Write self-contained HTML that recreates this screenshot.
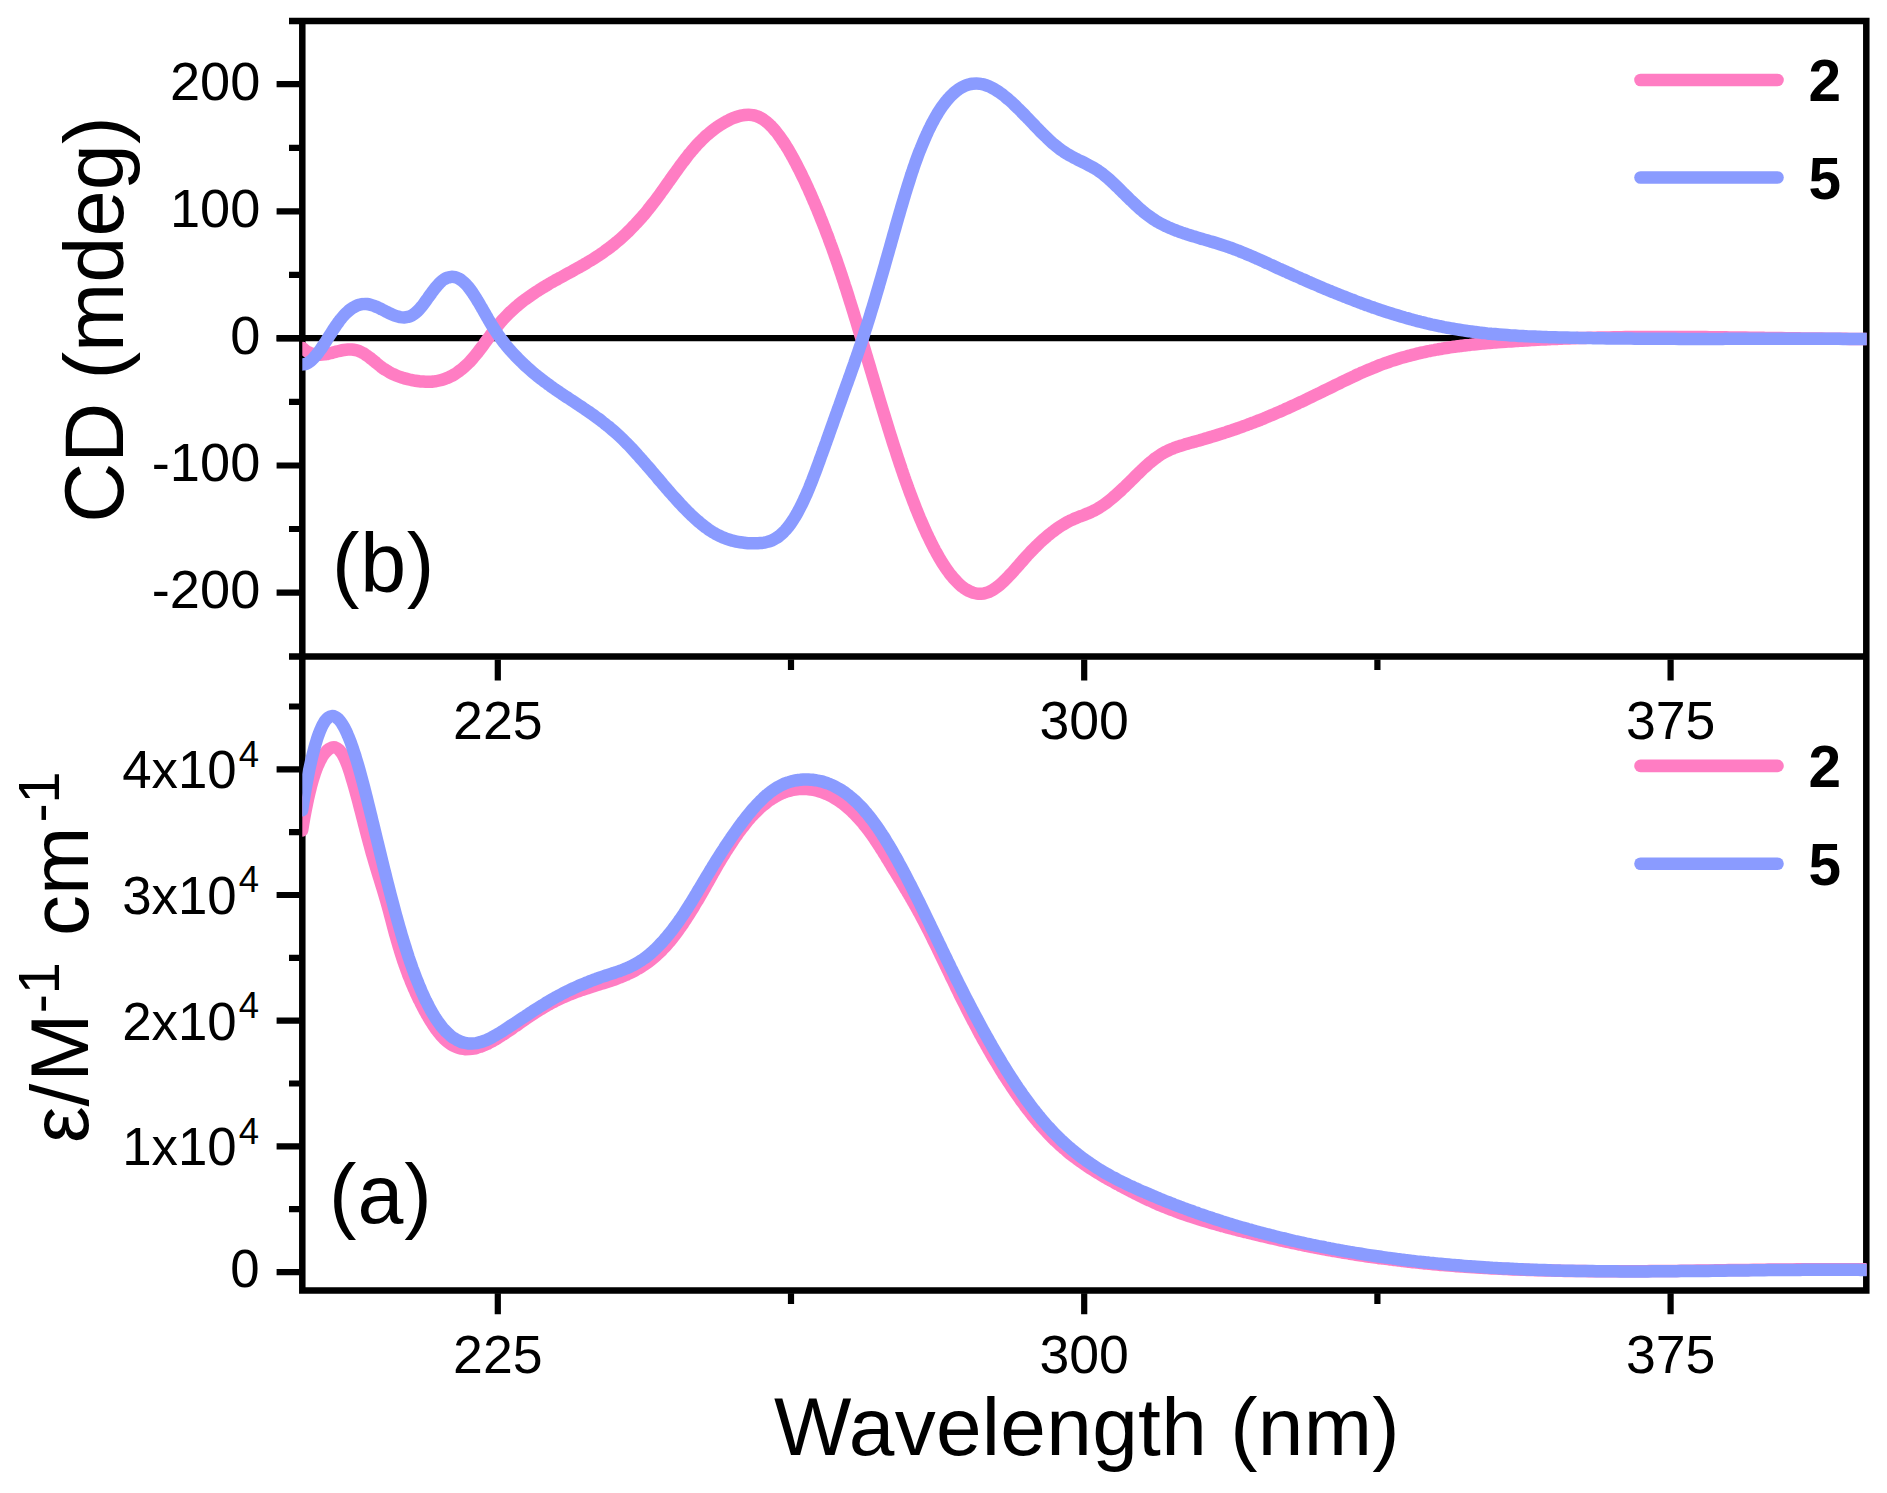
<!DOCTYPE html>
<html lang="en"><head><meta charset="utf-8"><title>CD and UV spectra</title>
<style>html,body{margin:0;padding:0;background:#fff}body{width:1887px;height:1493px;overflow:hidden}svg{display:block}text{font-family:"Liberation Sans", sans-serif;fill:#000}</style>
</head><body>
<svg width="1887" height="1493" viewBox="0 0 1887 1493">
<defs><clipPath id="ct"><rect x="302.3" y="21" width="1564.4" height="635.6"/></clipPath>
<clipPath id="cb"><rect x="302.3" y="656.6" width="1564.4" height="633.8"/></clipPath></defs>
<rect width="1887" height="1493" fill="#fff"/>
<g stroke="#000" fill="none" stroke-linecap="butt">
<path stroke-width="6.5" stroke-linejoin="miter" d="M302.3 21 H1866.3 V1290.4 H302.3 Z M289 21 H302.3 M289 656.6 H1866.3"/>
<path stroke-width="6.2" d="M276.6 338.2 H1866.3"/>
<path stroke-width="6.2" d="M276.6 84.2 H299.6M276.6 211.3 H299.6M276.6 338.4 H299.6M276.6 465.5 H299.6M276.6 592.6 H299.6M289 147.8 H299.6M289 274.9 H299.6M289 401.9 H299.6M289 529 H299.6M276.6 1272.1 H299.6M276.6 1146.4 H299.6M276.6 1020.7 H299.6M276.6 895 H299.6M276.6 769.3 H299.6M289 1209.2 H299.6M289 1083.5 H299.6M289 957.9 H299.6M289 832.1 H299.6M289 706.5 H299.6M497.8 659.4 V680.4M1084.2 659.4 V680.4M1670.6 659.4 V680.4M791 659.4 V670.1M1377.4 659.4 V670.1M497.8 1293.2 V1314.2M1084.2 1293.2 V1314.2M1670.6 1293.2 V1314.2M791 1293.2 V1304M1377.4 1293.2 V1304"/>
</g>
<g fill="none" stroke-width="12.5" stroke-linejoin="round" stroke-linecap="round">
<g clip-path="url(#ct)"><path stroke="#FF7DC3" d="M302.6 348.1C303.1 348.5 304.5 349.8 305.6 350.5C306.6 351.2 307.7 351.8 308.9 352.4C310 352.9 311.2 353.4 312.5 353.8C313.7 354.1 315 354.4 316.3 354.6C317.6 354.7 319 354.8 320.3 354.7C321.6 354.7 323 354.6 324.3 354.4C325.6 354.2 326.9 353.9 328.3 353.7C329.6 353.4 330.9 353.1 332.2 352.8C333.5 352.4 334.8 352.1 336 351.7C337.3 351.4 338.6 351.1 339.9 350.8C341.2 350.5 342.5 350.2 343.8 350C345.1 349.8 346.4 349.6 347.8 349.5C349.1 349.4 350.4 349.4 351.7 349.5C353.1 349.6 354.4 349.8 355.7 350.1C357.1 350.4 358.4 350.8 359.6 351.4C360.9 351.9 362.1 352.6 363.3 353.2C364.5 353.9 365.6 354.7 366.8 355.5C367.9 356.3 369 357.1 370 357.9C371.1 358.7 372.1 359.6 373.2 360.4C374.2 361.3 375.3 362.1 376.3 363C377.3 363.8 378.4 364.7 379.4 365.5C380.4 366.3 381.5 367.1 382.5 367.9C383.6 368.6 384.7 369.4 385.8 370.1C386.9 370.8 388 371.5 389.1 372.1C390.3 372.8 391.4 373.4 392.6 373.9C393.8 374.5 395 375 396.2 375.5C397.4 376 398.7 376.5 399.9 376.9C401.2 377.3 402.4 377.7 403.7 378.1C405 378.4 406.3 378.8 407.6 379.1C408.8 379.4 410.1 379.7 411.4 380C412.7 380.2 414 380.5 415.4 380.7C416.7 380.9 418 381.1 419.3 381.3C420.6 381.4 421.9 381.6 423.3 381.6C424.6 381.7 425.9 381.8 427.3 381.8C428.6 381.8 429.9 381.8 431.3 381.7C432.6 381.6 433.9 381.4 435.3 381.3C436.6 381.1 437.9 380.8 439.2 380.5C440.5 380.2 441.8 379.9 443.1 379.5C444.4 379.1 445.7 378.6 446.9 378.1C448.2 377.6 449.4 377 450.6 376.4C451.9 375.8 453 375.2 454.2 374.5C455.4 373.8 456.5 373 457.6 372.2C458.8 371.5 459.9 370.6 460.9 369.8C462 369 463 368.1 464.1 367.2C465.1 366.3 466.1 365.4 467.1 364.4C468.1 363.5 469 362.5 470 361.5C470.9 360.5 471.8 359.5 472.7 358.5C473.6 357.5 474.5 356.4 475.3 355.4C476.2 354.3 477 353.3 477.9 352.2C478.7 351.1 479.5 350.1 480.3 349C481.2 347.9 482 346.8 482.8 345.8C483.6 344.7 484.3 343.6 485.1 342.5C485.9 341.5 486.7 340.4 487.5 339.3C488.3 338.2 489.1 337.1 489.9 336.1C490.6 335 491.4 333.9 492.2 332.9C493 331.8 493.8 330.8 494.6 329.7C495.4 328.7 496.2 327.6 497 326.6C497.9 325.6 498.7 324.5 499.5 323.5C500.4 322.5 501.2 321.5 502.1 320.5C503 319.6 503.9 318.6 504.8 317.6C505.6 316.7 506.6 315.7 507.5 314.8C508.4 313.9 509.3 312.9 510.3 312C511.2 311.1 512.2 310.2 513.2 309.3C514.2 308.5 515.2 307.6 516.2 306.7C517.2 305.9 518.2 305 519.2 304.2C520.2 303.4 521.3 302.5 522.3 301.7C523.3 300.9 524.4 300.1 525.5 299.3C526.5 298.5 527.6 297.8 528.7 297C529.7 296.2 530.8 295.5 531.9 294.7C533 294 534.1 293.2 535.2 292.5C536.3 291.8 537.4 291 538.6 290.3C539.7 289.6 540.8 288.9 541.9 288.2C543.1 287.5 544.2 286.8 545.3 286.2C546.5 285.5 547.6 284.8 548.8 284.1C549.9 283.5 551.1 282.8 552.2 282.1C553.4 281.5 554.5 280.8 555.7 280.2C556.9 279.5 558 278.9 559.2 278.2C560.4 277.6 561.5 277 562.7 276.3C563.9 275.7 565 275 566.2 274.4C567.4 273.8 568.6 273.1 569.7 272.5C570.9 271.9 572.1 271.2 573.2 270.6C574.4 269.9 575.6 269.3 576.7 268.6C577.9 268 579.1 267.3 580.2 266.7C581.4 266 582.6 265.3 583.7 264.7C584.9 264 586 263.3 587.2 262.6C588.3 262 589.5 261.3 590.6 260.6C591.8 259.9 592.9 259.2 594 258.5C595.2 257.7 596.3 257 597.4 256.3C598.5 255.5 599.6 254.8 600.8 254C601.9 253.3 603 252.5 604.1 251.7C605.2 251 606.2 250.2 607.3 249.4C608.4 248.6 609.5 247.8 610.5 247C611.6 246.1 612.7 245.3 613.7 244.5C614.8 243.6 615.8 242.8 616.8 241.9C617.9 241 618.9 240.2 619.9 239.3C620.9 238.4 621.9 237.5 622.9 236.6C623.9 235.7 624.9 234.8 625.9 233.8C626.8 232.9 627.8 232 628.8 231C629.7 230.1 630.7 229.1 631.6 228.2C632.6 227.2 633.5 226.3 634.4 225.3C635.3 224.3 636.3 223.3 637.2 222.3C638.1 221.3 639 220.3 639.9 219.3C640.8 218.3 641.7 217.3 642.5 216.3C643.4 215.3 644.3 214.3 645.2 213.2C646 212.2 646.9 211.2 647.7 210.1C648.6 209.1 649.4 208 650.2 207C651.1 205.9 651.9 204.9 652.7 203.8C653.6 202.7 654.4 201.7 655.2 200.6C656 199.5 656.8 198.4 657.6 197.4C658.4 196.3 659.2 195.2 660 194.1C660.7 193 661.5 191.9 662.3 190.9C663.1 189.8 663.9 188.7 664.6 187.6C665.4 186.5 666.2 185.4 667 184.3C667.7 183.2 668.5 182.1 669.3 181.1C670 180 670.8 178.9 671.6 177.8C672.3 176.7 673.1 175.6 673.9 174.5C674.7 173.4 675.4 172.4 676.2 171.3C677 170.2 677.7 169.1 678.5 168.1C679.3 167 680.1 165.9 680.9 164.8C681.7 163.8 682.5 162.7 683.3 161.7C684.1 160.6 684.9 159.5 685.7 158.5C686.5 157.5 687.3 156.4 688.1 155.4C688.9 154.3 689.8 153.3 690.6 152.3C691.4 151.3 692.3 150.3 693.2 149.3C694 148.3 694.9 147.3 695.8 146.3C696.6 145.3 697.5 144.4 698.4 143.4C699.3 142.5 700.3 141.5 701.2 140.6C702.1 139.7 703.1 138.7 704 137.8C705 136.9 705.9 136 706.9 135.2C707.9 134.3 708.9 133.4 709.9 132.6C710.9 131.7 711.9 130.9 713 130.1C714 129.3 715 128.5 716.1 127.7C717.2 127 718.3 126.2 719.4 125.5C720.5 124.8 721.6 124.1 722.7 123.4C723.8 122.7 725 122.1 726.1 121.5C727.3 120.8 728.5 120.3 729.7 119.7C730.9 119.1 732.1 118.6 733.3 118.1C734.5 117.6 735.8 117.2 737 116.8C738.3 116.4 739.5 116 740.8 115.7C742.1 115.4 743.4 115.2 744.7 115C746 114.8 747.3 114.8 748.7 114.8C750 114.8 751.3 114.9 752.7 115.1C754 115.4 755.3 115.7 756.6 116.1C757.9 116.6 759.2 117.1 760.4 117.8C761.6 118.4 762.8 119.2 763.9 119.9C765.1 120.7 766.2 121.6 767.2 122.5C768.3 123.4 769.3 124.3 770.3 125.3C771.2 126.3 772.2 127.3 773.1 128.3C774 129.3 774.9 130.4 775.8 131.4C776.7 132.5 777.5 133.5 778.3 134.6C779.1 135.7 779.9 136.8 780.7 137.9C781.5 139.1 782.3 140.2 783 141.3C783.8 142.4 784.5 143.6 785.3 144.7C786 145.9 786.7 147 787.4 148.2C788.1 149.3 788.8 150.5 789.5 151.7C790.1 152.8 790.8 154 791.5 155.2C792.1 156.4 792.8 157.5 793.4 158.7C794.1 159.9 794.7 161.1 795.4 162.3C796 163.5 796.6 164.7 797.2 165.9C797.8 167.1 798.5 168.3 799.1 169.5C799.7 170.7 800.3 171.9 800.9 173.1C801.5 174.3 802 175.5 802.6 176.7C803.2 177.9 803.8 179.1 804.4 180.3C804.9 181.6 805.5 182.8 806.1 184C806.6 185.2 807.2 186.4 807.8 187.7C808.3 188.9 808.9 190.1 809.4 191.3C810 192.6 810.5 193.8 811.1 195C811.6 196.2 812.1 197.5 812.7 198.7C813.2 199.9 813.7 201.2 814.3 202.4C814.8 203.6 815.3 204.9 815.8 206.1C816.4 207.3 816.9 208.6 817.4 209.8C817.9 211.1 818.4 212.3 818.9 213.5C819.4 214.8 819.9 216 820.4 217.3C820.9 218.5 821.4 219.8 821.9 221C822.4 222.3 822.9 223.5 823.4 224.8C823.9 226 824.4 227.2 824.9 228.5C825.3 229.8 825.8 231 826.3 232.3C826.8 233.5 827.3 234.8 827.7 236C828.2 237.3 828.7 238.5 829.1 239.8C829.6 241 830.1 242.3 830.5 243.6C831 244.8 831.4 246.1 831.9 247.3C832.4 248.6 832.8 249.9 833.3 251.1C833.7 252.4 834.2 253.6 834.6 254.9C835.1 256.2 835.5 257.4 836 258.7C836.4 260 836.8 261.2 837.3 262.5C837.7 263.8 838.1 265 838.6 266.3C839 267.6 839.4 268.8 839.9 270.1C840.3 271.4 840.7 272.6 841.2 273.9C841.6 275.2 842 276.5 842.4 277.7C842.8 279 843.3 280.3 843.7 281.5C844.1 282.8 844.5 284.1 844.9 285.4C845.3 286.6 845.8 287.9 846.2 289.2C846.6 290.5 847 291.7 847.4 293C847.8 294.3 848.2 295.6 848.6 296.8C849 298.1 849.4 299.4 849.8 300.7C850.2 301.9 850.6 303.2 851 304.5C851.4 305.8 851.8 307 852.2 308.3C852.6 309.6 853 310.9 853.4 312.2C853.8 313.5 854.2 314.8 854.6 316.1C855 317.4 855.4 318.7 855.8 320C856.2 321.3 856.6 322.6 857 323.9C857.4 325.2 857.8 326.6 858.2 327.9C858.6 329.2 859 330.5 859.4 331.8C859.8 333.2 860.2 334.5 860.6 335.8C861 337.1 861.4 338.5 861.8 339.8C862.2 341.1 862.6 342.5 863 343.8C863.4 345.1 863.8 346.5 864.2 347.8C864.6 349.1 865 350.5 865.4 351.8C865.8 353.2 866.2 354.5 866.6 355.8C867 357.2 867.4 358.5 867.8 359.9C868.2 361.2 868.6 362.6 869 363.9C869.4 365.2 869.8 366.6 870.2 367.9C870.6 369.3 871 370.6 871.4 372C871.8 373.3 872.2 374.6 872.6 376C873 377.3 873.4 378.7 873.8 380C874.2 381.4 874.6 382.7 875 384C875.4 385.4 875.8 386.7 876.2 388.1C876.6 389.4 877 390.7 877.4 392.1C877.8 393.4 878.2 394.7 878.6 396.1C879 397.4 879.4 398.7 879.8 400.1C880.2 401.4 880.6 402.7 881 404.1C881.4 405.4 881.8 406.7 882.2 408C882.6 409.3 883 410.7 883.4 412C883.8 413.3 884.2 414.6 884.6 415.9C885 417.2 885.4 418.5 885.8 419.8C886.2 421.1 886.6 422.4 887 423.7C887.4 425 887.8 426.3 888.2 427.6C888.6 428.9 889 430.2 889.4 431.5C889.8 432.8 890.2 434 890.6 435.3C891 436.6 891.4 437.8 891.8 439.1C892.2 440.4 892.6 441.7 893 442.9C893.4 444.2 893.8 445.4 894.2 446.7C894.6 448 895.1 449.2 895.5 450.5C895.9 451.8 896.3 453 896.7 454.3C897.1 455.6 897.5 456.8 897.9 458.1C898.4 459.3 898.8 460.6 899.2 461.9C899.6 463.1 900 464.4 900.4 465.6C900.9 466.9 901.3 468.2 901.7 469.4C902.2 470.7 902.6 471.9 903 473.2C903.4 474.4 903.9 475.7 904.3 476.9C904.8 478.2 905.2 479.4 905.6 480.7C906.1 481.9 906.5 483.2 907 484.4C907.4 485.7 907.9 486.9 908.3 488.2C908.8 489.4 909.2 490.7 909.7 491.9C910.1 493.1 910.6 494.4 911.1 495.6C911.5 496.9 912 498.1 912.5 499.3C912.9 500.6 913.4 501.8 913.9 503C914.4 504.3 914.9 505.5 915.3 506.7C915.8 508 916.3 509.2 916.8 510.4C917.3 511.6 917.8 512.9 918.3 514.1C918.8 515.3 919.3 516.5 919.8 517.8C920.3 519 920.9 520.2 921.4 521.4C921.9 522.6 922.4 523.8 922.9 525C923.5 526.3 924 527.5 924.6 528.7C925.1 529.9 925.6 531.1 926.2 532.3C926.7 533.5 927.3 534.7 927.9 535.9C928.4 537.1 929 538.2 929.6 539.4C930.1 540.6 930.7 541.8 931.3 543C931.9 544.1 932.5 545.3 933.1 546.5C933.7 547.7 934.3 548.8 934.9 550C935.6 551.1 936.2 552.3 936.8 553.4C937.5 554.6 938.1 555.7 938.8 556.9C939.4 558 940.1 559.1 940.8 560.3C941.5 561.4 942.1 562.5 942.8 563.6C943.5 564.7 944.3 565.8 945 566.9C945.7 568 946.5 569.1 947.2 570.1C948 571.2 948.7 572.2 949.5 573.3C950.3 574.3 951.1 575.3 952 576.3C952.8 577.3 953.6 578.3 954.5 579.3C955.4 580.3 956.3 581.2 957.2 582.1C958.1 583 959 583.9 960 584.8C961 585.7 961.9 586.5 963 587.3C964 588 965.1 588.8 966.2 589.5C967.3 590.1 968.4 590.8 969.6 591.3C970.7 591.9 971.9 592.4 973.2 592.8C974.4 593.1 975.7 593.4 977 593.6C978.3 593.8 979.6 593.9 980.9 593.8C982.3 593.7 983.6 593.6 984.9 593.2C986.3 592.9 987.6 592.5 988.8 592C990.1 591.4 991.3 590.8 992.5 590.1C993.7 589.4 994.9 588.6 996 587.8C997.1 587 998.2 586.2 999.2 585.3C1000.3 584.4 1001.3 583.5 1002.3 582.6C1003.3 581.7 1004.3 580.8 1005.2 579.8C1006.2 578.9 1007.1 577.9 1008.1 576.9C1009 575.9 1009.9 574.9 1010.8 574C1011.8 573 1012.7 572 1013.6 571C1014.4 570 1015.3 569 1016.2 568C1017.1 567 1018 566 1018.9 565C1019.7 564 1020.6 562.9 1021.5 562C1022.4 561 1023.3 560 1024.1 559C1025 558 1025.9 557 1026.8 556C1027.7 555 1028.6 554.1 1029.5 553.1C1030.4 552.1 1031.3 551.2 1032.2 550.2C1033.2 549.3 1034.1 548.3 1035 547.4C1036 546.5 1036.9 545.5 1037.9 544.6C1038.8 543.7 1039.8 542.8 1040.7 541.9C1041.7 541 1042.7 540.1 1043.7 539.2C1044.7 538.4 1045.6 537.5 1046.7 536.6C1047.7 535.8 1048.7 534.9 1049.7 534.1C1050.7 533.3 1051.8 532.5 1052.8 531.7C1053.9 530.9 1054.9 530.1 1056 529.3C1057.1 528.5 1058.1 527.8 1059.2 527C1060.3 526.3 1061.4 525.6 1062.6 524.9C1063.7 524.2 1064.8 523.5 1066 522.9C1067.1 522.3 1068.3 521.6 1069.5 521C1070.6 520.5 1071.8 519.9 1073 519.4C1074.2 518.8 1075.5 518.3 1076.7 517.8C1077.9 517.3 1079.2 516.8 1080.4 516.3C1081.6 515.9 1082.9 515.4 1084.1 514.9C1085.4 514.4 1086.6 513.9 1087.9 513.4C1089.1 512.9 1090.3 512.4 1091.5 511.8C1092.8 511.2 1094 510.7 1095.2 510C1096.4 509.4 1097.6 508.7 1098.7 508C1099.9 507.3 1101 506.6 1102.1 505.8C1103.3 505.1 1104.4 504.3 1105.5 503.5C1106.5 502.7 1107.6 501.9 1108.7 501C1109.7 500.2 1110.8 499.3 1111.8 498.5C1112.9 497.6 1113.9 496.7 1114.9 495.9C1115.9 495 1116.9 494.1 1117.9 493.2C1118.9 492.3 1119.9 491.4 1120.9 490.5C1121.9 489.5 1122.8 488.6 1123.8 487.7C1124.8 486.8 1125.7 485.8 1126.7 484.9C1127.6 484 1128.6 483 1129.6 482.1C1130.5 481.2 1131.5 480.2 1132.4 479.3C1133.4 478.3 1134.3 477.4 1135.2 476.5C1136.2 475.5 1137.1 474.6 1138.1 473.7C1139 472.7 1140 471.8 1141 470.9C1141.9 470 1142.9 469.1 1143.8 468.2C1144.8 467.3 1145.8 466.4 1146.8 465.5C1147.8 464.6 1148.7 463.7 1149.7 462.9C1150.7 462 1151.8 461.2 1152.8 460.3C1153.8 459.5 1154.8 458.7 1155.9 457.9C1157 457.2 1158 456.4 1159.1 455.7C1160.2 454.9 1161.3 454.2 1162.4 453.6C1163.6 452.9 1164.7 452.3 1165.9 451.7C1167.1 451.1 1168.2 450.5 1169.4 450C1170.6 449.4 1171.9 448.9 1173.1 448.4C1174.3 447.9 1175.6 447.5 1176.8 447C1178.1 446.6 1179.3 446.2 1180.6 445.8C1181.8 445.4 1183.1 445 1184.4 444.6C1185.7 444.2 1186.9 443.9 1188.2 443.5C1189.5 443.2 1190.8 442.8 1192.1 442.4C1193.4 442.1 1194.7 441.7 1195.9 441.4C1197.2 441 1198.5 440.6 1199.8 440.3C1201.1 439.9 1202.3 439.5 1203.6 439.1C1204.9 438.8 1206.2 438.4 1207.5 438C1208.7 437.6 1210 437.2 1211.3 436.9C1212.6 436.5 1213.8 436.1 1215.1 435.7C1216.4 435.3 1217.7 434.9 1218.9 434.5C1220.2 434.1 1221.5 433.7 1222.8 433.3C1224 432.9 1225.3 432.5 1226.6 432C1227.8 431.6 1229.1 431.2 1230.4 430.8C1231.6 430.4 1232.9 429.9 1234.2 429.5C1235.4 429.1 1236.7 428.6 1237.9 428.2C1239.2 427.8 1240.5 427.3 1241.7 426.9C1243 426.4 1244.2 426 1245.5 425.5C1246.7 425 1248 424.6 1249.2 424.1C1250.5 423.6 1251.7 423.2 1253 422.7C1254.2 422.2 1255.5 421.7 1256.7 421.2C1258 420.8 1259.2 420.3 1260.5 419.8C1261.7 419.3 1262.9 418.8 1264.2 418.3C1265.4 417.8 1266.6 417.3 1267.9 416.7C1269.1 416.2 1270.3 415.7 1271.6 415.2C1272.8 414.7 1274 414.2 1275.3 413.6C1276.5 413.1 1277.7 412.6 1278.9 412C1280.1 411.5 1281.4 411 1282.6 410.4C1283.8 409.9 1285 409.3 1286.2 408.8C1287.5 408.2 1288.7 407.7 1289.9 407.1C1291.1 406.6 1292.3 406 1293.5 405.5C1294.7 404.9 1296 404.3 1297.2 403.8C1298.4 403.2 1299.6 402.6 1300.8 402.1C1302 401.5 1303.2 400.9 1304.4 400.4C1305.6 399.8 1306.8 399.2 1308 398.6C1309.2 398.1 1310.4 397.5 1311.6 396.9C1312.8 396.3 1314 395.7 1315.2 395.1C1316.4 394.6 1317.6 394 1318.8 393.4C1320 392.8 1321.2 392.2 1322.4 391.6C1323.6 391 1324.8 390.4 1326 389.8C1327.2 389.3 1328.4 388.7 1329.6 388.1C1330.8 387.5 1332 386.9 1333.2 386.3C1334.4 385.7 1335.6 385.1 1336.8 384.5C1338 384 1339.2 383.4 1340.4 382.8C1341.5 382.2 1342.7 381.6 1343.9 381C1345.1 380.5 1346.3 379.9 1347.5 379.3C1348.7 378.7 1349.9 378.2 1351.2 377.6C1352.4 377 1353.6 376.4 1354.8 375.9C1356 375.3 1357.2 374.8 1358.4 374.2C1359.6 373.7 1360.8 373.1 1362 372.6C1363.3 372 1364.5 371.5 1365.7 371C1366.9 370.4 1368.1 369.9 1369.4 369.4C1370.6 368.9 1371.8 368.4 1373 367.9C1374.3 367.4 1375.5 366.9 1376.7 366.4C1378 365.9 1379.2 365.4 1380.5 364.9C1381.7 364.5 1383 364 1384.2 363.5C1385.5 363.1 1386.7 362.6 1388 362.2C1389.2 361.8 1390.5 361.3 1391.7 360.9C1393 360.5 1394.3 360.1 1395.5 359.7C1396.8 359.3 1398.1 358.9 1399.3 358.5C1400.6 358.1 1401.9 357.7 1403.2 357.4C1404.5 357 1405.7 356.6 1407 356.3C1408.3 355.9 1409.6 355.6 1410.9 355.3C1412.2 354.9 1413.5 354.6 1414.8 354.3C1416 354 1417.3 353.7 1418.6 353.3C1419.9 353 1421.2 352.7 1422.5 352.5C1423.8 352.2 1425.1 351.9 1426.4 351.6C1427.7 351.3 1429 351.1 1430.3 350.8C1431.7 350.6 1433 350.3 1434.3 350.1C1435.6 349.8 1436.9 349.6 1438.2 349.3C1439.5 349.1 1440.8 348.9 1442.1 348.7C1443.5 348.4 1444.8 348.2 1446.1 348C1447.4 347.8 1448.7 347.6 1450 347.4C1451.4 347.2 1452.7 347 1454 346.8C1455.3 346.6 1456.6 346.5 1458 346.3C1459.3 346.1 1460.6 346 1461.9 345.8C1463.2 345.6 1464.6 345.5 1465.9 345.3C1467.2 345.2 1468.5 345 1469.9 344.9C1471.2 344.7 1472.5 344.6 1473.8 344.4C1475.2 344.3 1476.5 344.2 1477.8 344C1479.1 343.9 1480.5 343.8 1481.8 343.6C1483.1 343.5 1484.5 343.4 1485.8 343.3C1487.1 343.2 1488.4 343.1 1489.8 342.9C1491.1 342.8 1492.4 342.7 1493.8 342.6C1495.1 342.5 1496.4 342.4 1497.7 342.3C1499.1 342.2 1500.4 342.1 1501.7 342C1503.1 341.9 1504.4 341.8 1505.7 341.7C1507 341.6 1508.4 341.5 1509.7 341.4C1511 341.4 1512.4 341.3 1513.7 341.2C1515 341.1 1516.4 341 1517.7 340.9C1519 340.8 1520.3 340.8 1521.7 340.7C1523 340.6 1524.3 340.5 1525.7 340.4C1527 340.4 1528.3 340.3 1529.7 340.2C1531 340.1 1532.3 340.1 1533.7 340C1535 339.9 1536.3 339.8 1537.7 339.8C1539 339.7 1540.3 339.6 1541.6 339.6C1543 339.5 1544.3 339.4 1545.6 339.4C1547 339.3 1548.3 339.3 1549.6 339.2C1551 339.1 1552.3 339.1 1553.6 339C1555 339 1556.3 338.9 1557.6 338.9C1559 338.8 1560.3 338.7 1561.6 338.7C1563 338.6 1564.3 338.6 1565.6 338.5C1567 338.5 1568.3 338.4 1569.6 338.4C1571 338.4 1572.3 338.3 1573.6 338.3C1575 338.2 1576.3 338.2 1577.6 338.1C1578.9 338.1 1580.3 338.1 1581.6 338C1582.9 338 1584.3 337.9 1585.6 337.9C1586.9 337.9 1588.3 337.8 1589.6 337.8C1590.9 337.8 1592.3 337.7 1593.6 337.7C1594.9 337.7 1596.3 337.6 1597.6 337.6C1598.9 337.6 1600.3 337.5 1601.6 337.5C1602.9 337.5 1604.3 337.5 1605.6 337.4C1606.9 337.4 1608.3 337.4 1609.6 337.4C1610.9 337.3 1612.3 337.3 1613.6 337.3C1614.9 337.3 1616.3 337.3 1617.6 337.2C1618.9 337.2 1620.3 337.2 1621.6 337.2C1622.9 337.2 1624.3 337.2 1625.6 337.1C1626.9 337.1 1628.3 337.1 1629.6 337.1C1630.9 337.1 1632.3 337.1 1633.6 337.1C1634.9 337 1636.3 337 1637.6 337C1638.9 337 1640.3 337 1641.6 337C1642.9 337 1644.3 337 1645.6 337C1646.9 337 1648.3 337 1649.6 337C1650.9 337 1652.3 337 1653.6 336.9C1654.9 336.9 1656.3 336.9 1657.6 336.9C1658.9 336.9 1660.3 336.9 1661.6 336.9C1662.9 336.9 1664.3 336.9 1665.6 336.9C1666.9 336.9 1668.3 336.9 1669.6 336.9C1670.9 336.9 1672.3 336.9 1673.6 336.9C1674.9 337 1676.3 337 1677.6 337C1678.9 337 1680.3 337 1681.6 337C1682.9 337 1684.3 337 1685.6 337C1686.9 337 1688.3 337 1689.6 337C1690.9 337 1692.3 337 1693.6 337C1694.9 337.1 1696.3 337.1 1697.6 337.1C1698.9 337.1 1700.3 337.1 1701.6 337.1C1702.9 337.1 1704.3 337.1 1705.6 337.1C1706.9 337.2 1708.3 337.2 1709.6 337.2C1710.9 337.2 1712.3 337.2 1713.6 337.2C1714.9 337.2 1716.3 337.2 1717.6 337.3C1718.9 337.3 1720.3 337.3 1721.6 337.3C1722.9 337.3 1724.3 337.3 1725.6 337.3C1726.9 337.4 1728.3 337.4 1729.6 337.4C1730.9 337.4 1732.3 337.4 1733.6 337.4C1734.9 337.5 1736.3 337.5 1737.6 337.5C1738.9 337.5 1740.3 337.5 1741.6 337.5C1742.9 337.6 1744.3 337.6 1745.6 337.6C1746.9 337.6 1748.3 337.6 1749.6 337.7C1750.9 337.7 1752.3 337.7 1753.6 337.7C1754.9 337.7 1756.3 337.7 1757.6 337.8C1758.9 337.8 1760.3 337.8 1761.6 337.8C1762.9 337.8 1764.3 337.9 1765.6 337.9C1766.9 337.9 1768.3 337.9 1769.6 337.9C1770.9 338 1772.3 338 1773.6 338C1774.9 338 1776.3 338 1777.6 338C1778.9 338.1 1780.3 338.1 1781.6 338.1C1782.9 338.1 1784.3 338.1 1785.6 338.2C1786.9 338.2 1788.3 338.2 1789.6 338.2C1790.9 338.2 1792.3 338.3 1793.6 338.3C1794.9 338.3 1796.3 338.3 1797.6 338.3C1798.9 338.3 1800.3 338.4 1801.6 338.4C1802.9 338.4 1804.3 338.4 1805.6 338.4C1806.9 338.4 1808.3 338.5 1809.6 338.5C1810.9 338.5 1812.3 338.5 1813.6 338.5C1814.9 338.5 1816.3 338.6 1817.6 338.6C1818.9 338.6 1820.3 338.6 1821.6 338.6C1822.9 338.6 1824.3 338.6 1825.6 338.7C1826.9 338.7 1828.3 338.7 1829.6 338.7C1830.9 338.7 1832.3 338.7 1833.6 338.7C1834.9 338.8 1836.3 338.8 1837.6 338.8C1838.9 338.8 1840.3 338.8 1841.6 338.8C1842.9 338.8 1844.3 338.8 1845.6 338.8C1846.9 338.9 1848.3 338.9 1849.6 338.9C1850.9 338.9 1852.3 338.9 1853.6 338.9C1854.9 338.9 1856.3 338.9 1857.6 338.9C1858.9 338.9 1860.3 338.9 1861.6 338.9C1862.9 338.9 1864.8 339 1865.6 339C1866.4 339 1864.9 339 1866.6 339C1868.3 339 1874.4 339 1876 339"/><path stroke="#8A9BFF" d="M302.6 364.4C303.3 364.3 305.3 364.1 306.6 363.6C307.9 363.1 309.1 362.2 310.3 361.3C311.4 360.5 312.4 359.5 313.4 358.4C314.4 357.4 315.3 356.4 316.2 355.3C317.1 354.2 317.9 353.1 318.7 352C319.6 350.9 320.3 349.8 321.1 348.7C321.9 347.6 322.6 346.4 323.4 345.3C324.1 344.2 324.8 343 325.6 341.9C326.3 340.8 327 339.6 327.7 338.5C328.4 337.4 329.1 336.3 329.8 335.1C330.6 334 331.3 332.9 332 331.8C332.7 330.6 333.4 329.5 334.1 328.4C334.9 327.3 335.6 326.2 336.3 325.2C337.1 324.1 337.8 323 338.6 322C339.4 320.9 340.1 319.9 341 318.9C341.8 317.9 342.6 316.9 343.5 315.9C344.3 315 345.2 314 346.1 313.1C347.1 312.2 348 311.4 349 310.5C350 309.7 351 308.9 352.1 308.2C353.1 307.5 354.3 306.9 355.4 306.3C356.6 305.7 357.8 305.2 359 304.9C360.2 304.5 361.5 304.2 362.8 304.1C364.1 303.9 365.5 303.9 366.8 304C368.1 304.2 369.5 304.5 370.8 304.8C372.1 305.1 373.4 305.6 374.6 306.1C375.9 306.6 377.1 307.1 378.4 307.7C379.6 308.2 380.8 308.9 382 309.5C383.2 310.1 384.4 310.7 385.5 311.3C386.7 311.9 387.9 312.5 389.1 313.1C390.3 313.7 391.5 314.2 392.7 314.7C393.9 315.2 395.1 315.7 396.4 316.1C397.6 316.5 398.9 316.8 400.2 317.1C401.5 317.3 402.8 317.4 404.1 317.4C405.5 317.3 406.8 317.2 408.1 316.8C409.4 316.5 410.8 315.9 412 315.3C413.2 314.6 414.4 313.8 415.5 312.9C416.6 312 417.7 311 418.6 310C419.6 309 420.5 307.9 421.4 306.8C422.3 305.8 423.1 304.7 423.9 303.6C424.7 302.5 425.5 301.4 426.3 300.3C427.1 299.2 427.9 298.1 428.6 297C429.4 296 430.2 294.9 431 293.8C431.7 292.7 432.5 291.7 433.3 290.6C434.1 289.6 434.9 288.5 435.7 287.5C436.5 286.5 437.3 285.5 438.2 284.6C439.1 283.6 439.9 282.7 440.9 281.8C441.8 281 442.8 280.2 443.8 279.5C444.9 278.8 446 278.2 447.2 277.8C448.4 277.3 449.6 277 450.9 276.9C452.2 276.8 453.6 276.9 454.9 277.2C456.2 277.5 457.6 278 458.8 278.7C460 279.3 461.2 280.1 462.3 281C463.4 281.9 464.5 282.8 465.5 283.8C466.4 284.8 467.4 285.9 468.3 287C469.1 288.1 470 289.2 470.8 290.3C471.6 291.4 472.4 292.5 473.1 293.7C473.9 294.8 474.6 296 475.4 297.1C476.1 298.2 476.8 299.4 477.5 300.6C478.2 301.7 478.9 302.9 479.6 304C480.2 305.2 480.9 306.4 481.6 307.5C482.3 308.7 482.9 309.8 483.6 311C484.2 312.2 484.9 313.3 485.6 314.5C486.2 315.6 486.9 316.8 487.5 317.9C488.2 319.1 488.9 320.2 489.6 321.4C490.2 322.5 490.9 323.6 491.6 324.8C492.3 325.9 493 327 493.7 328.1C494.4 329.2 495.1 330.3 495.8 331.4C496.6 332.5 497.3 333.6 498 334.7C498.8 335.7 499.6 336.8 500.3 337.9C501.1 338.9 501.9 340 502.7 341C503.5 342.1 504.3 343.1 505.1 344.1C505.9 345.2 506.8 346.2 507.6 347.2C508.5 348.2 509.3 349.2 510.2 350.2C511 351.2 511.9 352.2 512.8 353.1C513.7 354.1 514.6 355.1 515.5 356C516.4 357 517.3 357.9 518.3 358.9C519.2 359.8 520.1 360.7 521.1 361.7C522 362.6 523 363.5 523.9 364.4C524.9 365.3 525.9 366.2 526.9 367.1C527.8 368 528.8 368.9 529.8 369.7C530.8 370.6 531.8 371.5 532.8 372.3C533.8 373.2 534.8 374 535.9 374.9C536.9 375.7 537.9 376.5 539 377.4C540 378.2 541 379 542.1 379.8C543.2 380.6 544.2 381.4 545.3 382.2C546.3 383 547.4 383.8 548.5 384.6C549.6 385.3 550.6 386.1 551.7 386.9C552.8 387.7 553.9 388.4 555 389.2C556.1 389.9 557.2 390.7 558.3 391.4C559.4 392.2 560.5 392.9 561.6 393.7C562.7 394.4 563.8 395.2 564.9 395.9C566 396.6 567.1 397.4 568.2 398.1C569.3 398.8 570.4 399.6 571.6 400.3C572.7 401 573.8 401.8 574.9 402.5C576 403.2 577.1 404 578.2 404.7C579.3 405.5 580.5 406.2 581.6 406.9C582.7 407.7 583.8 408.4 584.9 409.2C586 409.9 587.1 410.7 588.2 411.4C589.3 412.2 590.4 413 591.5 413.7C592.6 414.5 593.7 415.3 594.8 416.1C595.8 416.9 596.9 417.6 598 418.4C599.1 419.2 600.2 420 601.2 420.9C602.3 421.7 603.3 422.5 604.4 423.3C605.4 424.2 606.5 425 607.5 425.8C608.6 426.7 609.6 427.5 610.6 428.4C611.7 429.3 612.7 430.1 613.7 431C614.7 431.9 615.7 432.8 616.7 433.7C617.7 434.6 618.7 435.5 619.7 436.4C620.7 437.4 621.6 438.3 622.6 439.2C623.6 440.2 624.5 441.1 625.5 442.1C626.4 443 627.4 444 628.3 444.9C629.2 445.9 630.2 446.9 631.1 447.8C632 448.8 632.9 449.8 633.8 450.8C634.7 451.8 635.6 452.8 636.5 453.8C637.4 454.8 638.3 455.7 639.2 456.7C640.1 457.7 641 458.7 641.9 459.8C642.8 460.8 643.6 461.8 644.5 462.8C645.4 463.8 646.3 464.8 647.1 465.8C648 466.8 648.9 467.8 649.8 468.8C650.6 469.9 651.5 470.9 652.4 471.9C653.2 472.9 654.1 473.9 655 474.9C655.8 475.9 656.7 477 657.6 478C658.4 479 659.3 480 660.2 481C661 482 661.9 483 662.7 484.1C663.6 485.1 664.5 486.1 665.4 487.1C666.2 488.1 667.1 489.1 668 490.1C668.8 491.1 669.7 492.1 670.6 493.1C671.5 494.1 672.4 495.1 673.2 496.1C674.1 497.1 675 498.1 675.9 499C676.8 500 677.7 501 678.6 502C679.5 503 680.4 503.9 681.3 504.9C682.2 505.9 683.1 506.8 684 507.8C684.9 508.7 685.9 509.7 686.8 510.6C687.7 511.6 688.7 512.5 689.6 513.4C690.6 514.3 691.5 515.3 692.5 516.2C693.4 517.1 694.4 518 695.4 518.9C696.4 519.7 697.4 520.6 698.4 521.5C699.4 522.3 700.4 523.2 701.4 524C702.4 524.8 703.4 525.7 704.5 526.5C705.5 527.3 706.6 528 707.7 528.8C708.7 529.6 709.8 530.3 710.9 531C712 531.7 713.2 532.4 714.3 533.1C715.4 533.7 716.6 534.4 717.8 535C718.9 535.6 720.1 536.1 721.3 536.7C722.5 537.2 723.7 537.7 725 538.2C726.2 538.7 727.4 539.1 728.7 539.5C729.9 539.9 731.2 540.3 732.5 540.7C733.8 541 735.1 541.3 736.4 541.6C737.7 541.9 739 542.1 740.3 542.3C741.6 542.5 742.9 542.7 744.2 542.8C745.5 543 746.9 543.1 748.2 543.2C749.5 543.2 750.9 543.3 752.2 543.3C753.5 543.3 754.9 543.3 756.2 543.3C757.5 543.3 758.9 543.2 760.2 543.1C761.5 543 762.9 542.8 764.2 542.6C765.5 542.3 766.8 542 768.1 541.6C769.4 541.3 770.7 540.8 772 540.3C773.2 539.7 774.4 539.1 775.6 538.4C776.8 537.7 778 536.9 779.1 536.1C780.2 535.2 781.2 534.3 782.3 533.4C783.3 532.4 784.2 531.4 785.2 530.4C786.1 529.4 787 528.3 787.9 527.3C788.7 526.2 789.6 525.1 790.4 524C791.2 522.8 791.9 521.7 792.7 520.5C793.5 519.4 794.2 518.2 794.9 517.1C795.6 515.9 796.3 514.7 797 513.5C797.6 512.3 798.3 511.1 798.9 509.9C799.6 508.7 800.2 507.5 800.8 506.3C801.4 505.1 802 503.9 802.6 502.6C803.2 501.4 803.8 500.2 804.3 498.9C804.9 497.7 805.5 496.5 806 495.2C806.6 494 807.1 492.7 807.6 491.5C808.1 490.3 808.7 489 809.2 487.8C809.7 486.5 810.2 485.3 810.7 484C811.2 482.8 811.7 481.5 812.2 480.3C812.7 479 813.2 477.7 813.6 476.5C814.1 475.2 814.6 474 815.1 472.7C815.6 471.5 816 470.2 816.5 469C817 467.7 817.4 466.4 817.9 465.2C818.3 463.9 818.8 462.7 819.3 461.4C819.7 460.2 820.2 458.9 820.6 457.6C821.1 456.4 821.5 455.1 822 453.9C822.5 452.6 822.9 451.4 823.4 450.1C823.8 448.8 824.3 447.6 824.7 446.3C825.2 445.1 825.6 443.8 826.1 442.6C826.5 441.3 827 440 827.4 438.8C827.9 437.5 828.3 436.3 828.8 435C829.2 433.8 829.6 432.5 830.1 431.2C830.5 430 831 428.7 831.4 427.5C831.9 426.2 832.3 425 832.8 423.7C833.2 422.5 833.7 421.2 834.1 419.9C834.6 418.7 835 417.4 835.4 416.2C835.9 414.9 836.3 413.7 836.8 412.4C837.2 411.1 837.7 409.9 838.1 408.6C838.6 407.4 839 406.1 839.5 404.9C839.9 403.6 840.4 402.4 840.8 401.1C841.3 399.9 841.7 398.6 842.2 397.3C842.6 396.1 843.1 394.8 843.5 393.6C844 392.3 844.4 391.1 844.9 389.8C845.3 388.6 845.8 387.3 846.2 386.1C846.7 384.8 847.1 383.5 847.6 382.3C848 381 848.5 379.8 848.9 378.5C849.4 377.3 849.8 376 850.3 374.7C850.7 373.5 851.2 372.2 851.6 371C852 369.7 852.5 368.4 852.9 367.2C853.4 365.9 853.8 364.7 854.3 363.4C854.7 362.1 855.1 360.9 855.6 359.6C856 358.3 856.5 357.1 856.9 355.8C857.3 354.5 857.8 353.3 858.2 352C858.6 350.7 859.1 349.5 859.5 348.2C859.9 346.9 860.3 345.7 860.8 344.4C861.2 343.1 861.6 341.9 862 340.6C862.5 339.3 862.9 338 863.3 336.8C863.7 335.5 864.1 334.2 864.5 332.9C864.9 331.7 865.3 330.4 865.7 329.1C866.2 327.8 866.6 326.5 867 325.3C867.4 324 867.8 322.7 868.2 321.4C868.6 320.2 869 318.9 869.4 317.6C869.8 316.3 870.2 315 870.6 313.7C871 312.3 871.4 311 871.8 309.7C872.2 308.4 872.6 307.1 873 305.7C873.4 304.4 873.8 303.1 874.2 301.7C874.6 300.4 875 299 875.4 297.7C875.8 296.3 876.2 295 876.6 293.6C877 292.3 877.4 290.9 877.8 289.5C878.2 288.2 878.6 286.8 879 285.4C879.4 284.1 879.8 282.7 880.2 281.3C880.6 279.9 881 278.5 881.4 277.1C881.8 275.7 882.2 274.4 882.6 273C883 271.6 883.4 270.2 883.8 268.8C884.2 267.4 884.6 266 885 264.6C885.4 263.1 885.8 261.7 886.2 260.3C886.6 258.9 887 257.5 887.4 256.1C887.8 254.7 888.2 253.3 888.6 251.8C889 250.4 889.4 249 889.8 247.6C890.2 246.2 890.6 244.8 891 243.3C891.4 241.9 891.8 240.5 892.2 239.1C892.6 237.7 893 236.2 893.4 234.8C893.8 233.4 894.2 232 894.6 230.6C895 229.2 895.4 227.7 895.8 226.3C896.2 224.9 896.6 223.5 897 222.1C897.4 220.7 897.8 219.3 898.2 217.9C898.6 216.5 899 215.1 899.4 213.8C899.8 212.4 900.2 211 900.6 209.6C901 208.2 901.4 206.9 901.8 205.5C902.2 204.1 902.6 202.8 903 201.4C903.4 200.1 903.8 198.8 904.2 197.4C904.6 196.1 905 194.8 905.4 193.4C905.8 192.1 906.2 190.8 906.6 189.5C907 188.2 907.4 186.9 907.8 185.6C908.2 184.4 908.6 183.1 909 181.8C909.4 180.6 909.8 179.3 910.2 178.1C910.6 176.8 911 175.5 911.4 174.3C911.8 173 912.2 171.8 912.7 170.5C913.1 169.3 913.5 168 913.9 166.8C914.4 165.5 914.8 164.3 915.2 163.1C915.7 161.8 916.1 160.6 916.6 159.3C917 158.1 917.5 156.9 917.9 155.6C918.4 154.4 918.9 153.2 919.3 151.9C919.8 150.7 920.3 149.5 920.8 148.3C921.3 147 921.8 145.8 922.3 144.6C922.8 143.4 923.3 142.2 923.8 141C924.3 139.8 924.8 138.6 925.4 137.4C925.9 136.2 926.4 135 927 133.8C927.5 132.6 928.1 131.4 928.6 130.2C929.2 129 929.8 127.8 930.4 126.7C930.9 125.5 931.5 124.3 932.1 123.2C932.8 122 933.4 120.9 934 119.7C934.6 118.6 935.3 117.4 935.9 116.3C936.6 115.2 937.3 114.1 937.9 112.9C938.6 111.8 939.3 110.7 940 109.6C940.8 108.6 941.5 107.5 942.2 106.4C943 105.4 943.8 104.3 944.5 103.3C945.3 102.2 946.1 101.2 947 100.2C947.8 99.2 948.7 98.3 949.5 97.3C950.4 96.4 951.3 95.4 952.3 94.6C953.2 93.7 954.2 92.8 955.1 92C956.1 91.1 957.2 90.4 958.2 89.6C959.3 88.9 960.4 88.2 961.5 87.5C962.6 86.9 963.8 86.3 965 85.8C966.2 85.3 967.4 84.9 968.7 84.5C969.9 84.2 971.2 83.9 972.5 83.7C973.8 83.6 975.2 83.5 976.5 83.5C977.8 83.5 979.2 83.6 980.5 83.9C981.8 84.1 983.1 84.4 984.4 84.7C985.7 85.1 987 85.6 988.3 86.1C989.5 86.6 990.8 87.2 992 87.8C993.2 88.4 994.4 89.1 995.5 89.8C996.7 90.5 997.8 91.2 999 92C1000.1 92.8 1001.2 93.6 1002.3 94.4C1003.3 95.2 1004.4 96 1005.4 96.9C1006.5 97.8 1007.5 98.6 1008.5 99.5C1009.6 100.4 1010.6 101.3 1011.6 102.2C1012.6 103.1 1013.5 104 1014.5 105C1015.5 105.9 1016.4 106.8 1017.4 107.8C1018.4 108.7 1019.3 109.7 1020.3 110.6C1021.2 111.6 1022.1 112.5 1023.1 113.5C1024 114.4 1024.9 115.4 1025.9 116.4C1026.8 117.3 1027.7 118.3 1028.6 119.2C1029.6 120.2 1030.5 121.2 1031.4 122.1C1032.3 123.1 1033.3 124.1 1034.2 125C1035.1 126 1036 126.9 1036.9 127.9C1037.9 128.9 1038.8 129.8 1039.7 130.8C1040.7 131.7 1041.6 132.6 1042.5 133.6C1043.5 134.5 1044.4 135.4 1045.4 136.4C1046.3 137.3 1047.3 138.2 1048.2 139.1C1049.2 140 1050.2 140.9 1051.1 141.8C1052.1 142.7 1053.1 143.6 1054.1 144.4C1055.1 145.3 1056.1 146.1 1057.2 146.9C1058.2 147.8 1059.2 148.6 1060.3 149.4C1061.3 150.1 1062.4 150.9 1063.5 151.6C1064.6 152.4 1065.7 153.1 1066.8 153.8C1067.9 154.4 1069.1 155.1 1070.2 155.7C1071.4 156.4 1072.5 157 1073.7 157.6C1074.9 158.2 1076.1 158.8 1077.3 159.4C1078.4 160 1079.6 160.6 1080.8 161.2C1082 161.8 1083.2 162.3 1084.4 162.9C1085.6 163.5 1086.8 164.1 1088 164.8C1089.2 165.4 1090.4 166 1091.6 166.7C1092.7 167.3 1093.9 168 1095.1 168.7C1096.2 169.4 1097.4 170.1 1098.5 170.9C1099.6 171.6 1100.7 172.4 1101.8 173.2C1102.9 174.1 1103.9 174.9 1105 175.8C1106 176.6 1107.1 177.5 1108.1 178.4C1109.1 179.3 1110.1 180.2 1111.1 181.1C1112.1 182 1113.1 182.9 1114 183.9C1115 184.8 1116 185.7 1116.9 186.7C1117.9 187.6 1118.8 188.5 1119.8 189.5C1120.7 190.4 1121.7 191.4 1122.6 192.3C1123.6 193.2 1124.5 194.2 1125.5 195.1C1126.4 196 1127.4 197 1128.3 197.9C1129.3 198.8 1130.2 199.8 1131.2 200.7C1132.1 201.6 1133.1 202.5 1134 203.4C1135 204.3 1136 205.2 1137 206.1C1137.9 207 1138.9 207.9 1139.9 208.8C1140.9 209.6 1141.9 210.5 1142.9 211.3C1143.9 212.2 1145 213 1146 213.8C1147 214.7 1148.1 215.5 1149.1 216.2C1150.2 217 1151.3 217.8 1152.4 218.5C1153.4 219.3 1154.5 220 1155.7 220.7C1156.8 221.4 1157.9 222 1159.1 222.7C1160.2 223.3 1161.4 223.9 1162.6 224.5C1163.7 225.1 1164.9 225.7 1166.1 226.3C1167.3 226.8 1168.5 227.4 1169.7 227.9C1171 228.4 1172.2 228.9 1173.4 229.4C1174.6 229.9 1175.9 230.4 1177.1 230.9C1178.4 231.3 1179.6 231.8 1180.9 232.2C1182.1 232.7 1183.4 233.1 1184.6 233.5C1185.9 233.9 1187.2 234.4 1188.4 234.8C1189.7 235.2 1191 235.6 1192.2 236C1193.5 236.4 1194.8 236.7 1196.1 237.1C1197.3 237.5 1198.6 237.9 1199.9 238.3C1201.2 238.6 1202.5 239 1203.7 239.4C1205 239.8 1206.3 240.1 1207.6 240.5C1208.9 240.9 1210.1 241.3 1211.4 241.7C1212.7 242 1214 242.4 1215.2 242.8C1216.5 243.2 1217.8 243.6 1219.1 244C1220.3 244.4 1221.6 244.8 1222.9 245.2C1224.2 245.6 1225.4 246 1226.7 246.5C1228 246.9 1229.2 247.3 1230.5 247.8C1231.7 248.2 1233 248.7 1234.2 249.2C1235.5 249.6 1236.7 250.1 1238 250.6C1239.2 251.1 1240.5 251.6 1241.7 252.1C1243 252.6 1244.2 253.1 1245.4 253.6C1246.7 254.1 1247.9 254.6 1249.1 255.2C1250.4 255.7 1251.6 256.2 1252.8 256.7C1254 257.3 1255.3 257.8 1256.5 258.3C1257.7 258.9 1258.9 259.4 1260.1 260C1261.3 260.5 1262.6 261.1 1263.8 261.6C1265 262.2 1266.2 262.7 1267.4 263.3C1268.6 263.8 1269.9 264.4 1271.1 264.9C1272.3 265.5 1273.5 266 1274.7 266.6C1275.9 267.2 1277.1 267.7 1278.3 268.3C1279.6 268.8 1280.8 269.4 1282 269.9C1283.2 270.5 1284.4 271 1285.6 271.6C1286.8 272.1 1288 272.7 1289.3 273.2C1290.5 273.8 1291.7 274.3 1292.9 274.9C1294.1 275.4 1295.3 276 1296.6 276.5C1297.8 277.1 1299 277.6 1300.2 278.1C1301.4 278.7 1302.6 279.2 1303.9 279.7C1305.1 280.3 1306.3 280.8 1307.5 281.4C1308.7 281.9 1310 282.4 1311.2 282.9C1312.4 283.5 1313.6 284 1314.9 284.5C1316.1 285.1 1317.3 285.6 1318.5 286.1C1319.8 286.6 1321 287.1 1322.2 287.7C1323.4 288.2 1324.7 288.7 1325.9 289.2C1327.1 289.7 1328.4 290.2 1329.6 290.7C1330.8 291.3 1332.1 291.8 1333.3 292.3C1334.5 292.8 1335.8 293.3 1337 293.8C1338.2 294.3 1339.5 294.8 1340.7 295.3C1341.9 295.8 1343.2 296.3 1344.4 296.7C1345.7 297.2 1346.9 297.7 1348.1 298.2C1349.4 298.7 1350.6 299.2 1351.9 299.6C1353.1 300.1 1354.3 300.6 1355.6 301.1C1356.8 301.5 1358.1 302 1359.3 302.5C1360.6 302.9 1361.8 303.4 1363.1 303.9C1364.3 304.3 1365.6 304.8 1366.8 305.2C1368.1 305.7 1369.3 306.1 1370.6 306.6C1371.9 307 1373.1 307.5 1374.4 307.9C1375.6 308.3 1376.9 308.8 1378.2 309.2C1379.4 309.6 1380.7 310 1381.9 310.5C1383.2 310.9 1384.5 311.3 1385.7 311.7C1387 312.1 1388.3 312.5 1389.5 312.9C1390.8 313.4 1392.1 313.8 1393.3 314.1C1394.6 314.5 1395.9 314.9 1397.2 315.3C1398.4 315.7 1399.7 316.1 1401 316.5C1402.3 316.9 1403.5 317.2 1404.8 317.6C1406.1 318 1407.4 318.3 1408.7 318.7C1410 319 1411.2 319.4 1412.5 319.7C1413.8 320.1 1415.1 320.4 1416.4 320.8C1417.7 321.1 1419 321.4 1420.3 321.8C1421.5 322.1 1422.8 322.4 1424.1 322.7C1425.4 323 1426.7 323.4 1428 323.7C1429.3 324 1430.6 324.3 1431.9 324.6C1433.2 324.8 1434.5 325.1 1435.8 325.4C1437.1 325.7 1438.4 326 1439.7 326.2C1441 326.5 1442.3 326.8 1443.6 327C1445 327.3 1446.3 327.5 1447.6 327.8C1448.9 328 1450.2 328.2 1451.5 328.5C1452.8 328.7 1454.1 328.9 1455.4 329.1C1456.8 329.4 1458.1 329.6 1459.4 329.8C1460.7 330 1462 330.2 1463.3 330.4C1464.7 330.6 1466 330.8 1467.3 331C1468.6 331.1 1469.9 331.3 1471.3 331.5C1472.6 331.7 1473.9 331.8 1475.2 332C1476.5 332.2 1477.9 332.3 1479.2 332.5C1480.5 332.6 1481.8 332.8 1483.2 332.9C1484.5 333.1 1485.8 333.2 1487.1 333.4C1488.5 333.5 1489.8 333.6 1491.1 333.8C1492.4 333.9 1493.8 334 1495.1 334.1C1496.4 334.2 1497.8 334.4 1499.1 334.5C1500.4 334.6 1501.7 334.7 1503.1 334.8C1504.4 334.9 1505.7 335 1507.1 335.1C1508.4 335.2 1509.7 335.3 1511 335.4C1512.4 335.5 1513.7 335.5 1515 335.6C1516.4 335.7 1517.7 335.8 1519 335.9C1520.4 335.9 1521.7 336 1523 336.1C1524.4 336.2 1525.7 336.2 1527 336.3C1528.4 336.3 1529.7 336.4 1531 336.5C1532.3 336.5 1533.7 336.6 1535 336.6C1536.3 336.7 1537.7 336.8 1539 336.8C1540.3 336.9 1541.7 336.9 1543 336.9C1544.3 337 1545.7 337 1547 337.1C1548.3 337.1 1549.7 337.2 1551 337.2C1552.3 337.2 1553.7 337.3 1555 337.3C1556.3 337.4 1557.7 337.4 1559 337.4C1560.3 337.5 1561.7 337.5 1563 337.5C1564.3 337.6 1565.7 337.6 1567 337.6C1568.3 337.7 1569.7 337.7 1571 337.7C1572.3 337.7 1573.7 337.8 1575 337.8C1576.3 337.8 1577.7 337.9 1579 337.9C1580.3 337.9 1581.7 337.9 1583 338C1584.3 338 1585.7 338 1587 338C1588.3 338.1 1589.7 338.1 1591 338.1C1592.3 338.1 1593.7 338.2 1595 338.2C1596.3 338.2 1597.7 338.2 1599 338.2C1600.3 338.3 1601.7 338.3 1603 338.3C1604.3 338.3 1605.7 338.3 1607 338.4C1608.3 338.4 1609.7 338.4 1611 338.4C1612.3 338.4 1613.7 338.4 1615 338.5C1616.3 338.5 1617.7 338.5 1619 338.5C1620.3 338.5 1621.7 338.5 1623 338.5C1624.3 338.6 1625.7 338.6 1627 338.6C1628.3 338.6 1629.7 338.6 1631 338.6C1632.3 338.6 1633.7 338.6 1635 338.7C1636.3 338.7 1637.7 338.7 1639 338.7C1640.3 338.7 1641.7 338.7 1643 338.7C1644.3 338.7 1645.7 338.7 1647 338.7C1648.3 338.7 1649.7 338.8 1651 338.8C1652.3 338.8 1653.7 338.8 1655 338.8C1656.3 338.8 1657.7 338.8 1659 338.8C1660.3 338.8 1661.7 338.8 1663 338.8C1664.3 338.8 1665.7 338.8 1667 338.8C1668.3 338.8 1669.7 338.8 1671 338.8C1672.3 338.8 1673.7 338.8 1675 338.8C1676.3 338.9 1677.7 338.9 1679 338.9C1680.3 338.9 1681.7 338.9 1683 338.9C1684.3 338.9 1685.7 338.9 1687 338.9C1688.3 338.9 1689.7 338.9 1691 338.9C1692.3 338.9 1693.7 338.9 1695 338.9C1696.3 338.9 1697.7 338.9 1699 338.9C1700.3 338.9 1701.7 338.9 1703 338.9C1704.3 338.9 1705.7 338.9 1707 338.9C1708.3 338.9 1709.7 338.9 1711 338.9C1712.3 338.9 1713.7 338.9 1715 338.9C1716.3 338.9 1717.7 338.9 1719 338.9C1720.3 338.9 1721.7 338.9 1723 338.9C1724.3 338.9 1725.7 338.8 1727 338.8C1728.3 338.8 1729.7 338.8 1731 338.8C1732.3 338.8 1733.7 338.8 1735 338.8C1736.3 338.8 1737.7 338.8 1739 338.8C1740.3 338.8 1741.7 338.8 1743 338.8C1744.3 338.8 1745.7 338.8 1747 338.8C1748.3 338.8 1749.7 338.8 1751 338.8C1752.3 338.8 1753.7 338.8 1755 338.8C1756.3 338.8 1757.7 338.8 1759 338.8C1760.3 338.8 1761.7 338.8 1763 338.8C1764.3 338.8 1765.7 338.8 1767 338.8C1768.3 338.8 1769.7 338.8 1771 338.8C1772.3 338.8 1773.7 338.8 1775 338.8C1776.3 338.8 1777.7 338.8 1779 338.8C1780.3 338.8 1781.7 338.8 1783 338.8C1784.3 338.8 1785.7 338.8 1787 338.8C1788.3 338.8 1789.7 338.8 1791 338.8C1792.3 338.8 1793.7 338.8 1795 338.8C1796.3 338.8 1797.7 338.8 1799 338.8C1800.3 338.8 1801.7 338.8 1803 338.8C1804.3 338.8 1805.7 338.8 1807 338.8C1808.3 338.8 1809.7 338.8 1811 338.8C1812.3 338.8 1813.7 338.8 1815 338.8C1816.3 338.8 1817.7 338.8 1819 338.8C1820.3 338.8 1821.7 338.8 1823 338.8C1824.3 338.8 1825.7 338.8 1827 338.8C1828.3 338.8 1829.7 338.8 1831 338.8C1832.3 338.8 1833.7 338.8 1835 338.8C1836.3 338.8 1837.7 338.8 1839 338.8C1840.3 338.9 1841.7 338.9 1843 338.9C1844.3 338.9 1845.7 338.9 1847 338.9C1848.3 338.9 1849.7 338.9 1851 338.9C1852.3 338.9 1853.7 338.9 1855 338.9C1856.3 338.9 1857.7 339 1859 339C1860.3 339 1861.7 339 1863 339C1864.3 339 1864.4 339 1866.6 339C1868.8 339 1874.4 339 1876 339"/></g>
<g clip-path="url(#cb)"><path stroke="#FF7DC3" d="M302.1 830.5C302.3 829.3 302.9 825.7 303.3 823.3C303.7 821 304.1 818.7 304.5 816.5C304.9 814.3 305.3 812.2 305.7 810.1C306.1 808.1 306.5 806.1 306.9 804.2C307.3 802.2 307.7 800.4 308.1 798.5C308.5 796.7 308.9 795 309.3 793.3C309.7 791.6 310.1 790 310.5 788.4C310.9 786.8 311.3 785.3 311.7 783.9C312.1 782.4 312.5 781 312.9 779.6C313.3 778.3 313.7 777 314.1 775.8C314.5 774.5 314.9 773.3 315.3 772.1C315.7 770.9 316.2 769.7 316.6 768.5C317.1 767.3 317.6 766.1 318.1 765C318.6 763.8 319.1 762.6 319.7 761.5C320.2 760.4 320.8 759.3 321.4 758.2C322 757.1 322.7 756 323.4 755C324.1 754 324.8 753 325.7 752.1C326.5 751.2 327.4 750.3 328.3 749.5C329.3 748.8 330.3 748 331.4 747.7C332.6 747.3 333.9 747.1 335.2 747.4C336.5 747.8 338 748.8 339.1 749.8C340.2 750.8 341.1 752.1 342 753.4C342.8 754.6 343.5 756 344.1 757.3C344.8 758.6 345.3 759.9 345.9 761.2C346.4 762.5 346.9 763.8 347.4 765.1C347.9 766.4 348.3 767.7 348.8 769C349.2 770.3 349.7 771.6 350.1 772.9C350.5 774.2 350.9 775.5 351.3 776.8C351.7 778.2 352.1 779.5 352.5 780.8C352.9 782.2 353.3 783.6 353.7 785C354.1 786.4 354.5 787.8 354.9 789.2C355.3 790.7 355.7 792.1 356.1 793.6C356.5 795 356.9 796.5 357.3 798C357.7 799.5 358.1 801 358.5 802.5C358.9 804.1 359.3 805.6 359.7 807.1C360.1 808.6 360.5 810.2 360.9 811.7C361.3 813.3 361.7 814.8 362.1 816.4C362.5 817.9 362.9 819.5 363.3 821C363.7 822.6 364.1 824.1 364.5 825.7C364.9 827.2 365.3 828.8 365.7 830.3C366.1 831.8 366.5 833.4 366.9 834.9C367.3 836.4 367.7 838 368.1 839.5C368.5 841 368.9 842.5 369.3 844C369.7 845.4 370.1 846.9 370.5 848.4C370.9 849.8 371.3 851.3 371.7 852.7C372.1 854.1 372.5 855.5 372.9 856.9C373.3 858.3 373.7 859.7 374.1 861C374.5 862.4 374.9 863.7 375.3 865C375.7 866.4 376.1 867.7 376.5 869C376.9 870.3 377.3 871.6 377.7 872.9C378.1 874.2 378.5 875.5 378.9 876.8C379.3 878.1 379.7 879.4 380.1 880.7C380.5 882 380.9 883.3 381.3 884.6C381.7 885.9 382.1 887.2 382.5 888.5C382.9 889.8 383.3 891.1 383.7 892.4C384.1 893.8 384.5 895.1 384.9 896.5C385.3 897.8 385.7 899.2 386.1 900.6C386.5 902 386.9 903.4 387.3 904.8C387.7 906.2 388.1 907.7 388.5 909.2C388.9 910.6 389.3 912.1 389.7 913.6C390.1 915.1 390.5 916.7 390.9 918.2C391.3 919.7 391.7 921.2 392.1 922.8C392.5 924.3 392.9 925.8 393.3 927.3C393.7 928.8 394.1 930.3 394.5 931.8C394.9 933.3 395.3 934.7 395.7 936.2C396.1 937.6 396.5 939 396.9 940.4C397.3 941.8 397.7 943.2 398.1 944.5C398.5 945.9 398.9 947.2 399.3 948.5C399.7 949.8 400.1 951.1 400.5 952.4C400.9 953.7 401.3 954.9 401.7 956.2C402.1 957.4 402.5 958.7 402.9 959.9C403.4 961.2 403.8 962.4 404.2 963.6C404.6 964.9 405.1 966.1 405.5 967.4C406 968.6 406.4 969.8 406.9 971.1C407.3 972.3 407.8 973.5 408.2 974.8C408.7 976 409.2 977.2 409.7 978.4C410.2 979.6 410.6 980.9 411.1 982.1C411.6 983.3 412.2 984.5 412.7 985.7C413.2 986.9 413.7 988.1 414.2 989.3C414.8 990.5 415.3 991.7 415.8 992.9C416.4 994.1 416.9 995.3 417.5 996.5C418.1 997.7 418.6 998.9 419.2 1000.1C419.8 1001.2 420.4 1002.4 421 1003.6C421.6 1004.8 422.2 1005.9 422.8 1007.1C423.4 1008.3 424 1009.4 424.6 1010.6C425.2 1011.8 425.9 1012.9 426.5 1014C427.2 1015.2 427.8 1016.3 428.5 1017.5C429.1 1018.6 429.8 1019.7 430.5 1020.8C431.2 1021.9 431.9 1023 432.6 1024.1C433.3 1025.2 434 1026.3 434.8 1027.4C435.5 1028.5 436.3 1029.5 437.1 1030.6C437.8 1031.6 438.6 1032.6 439.5 1033.6C440.3 1034.6 441.1 1035.6 442 1036.6C442.9 1037.5 443.8 1038.5 444.7 1039.4C445.6 1040.2 446.6 1041.1 447.6 1041.9C448.6 1042.7 449.6 1043.5 450.7 1044.2C451.7 1044.9 452.8 1045.6 454 1046.1C455.1 1046.7 456.3 1047.2 457.6 1047.6C458.8 1048.1 460.1 1048.4 461.4 1048.7C462.6 1048.9 464 1049.1 465.3 1049.2C466.6 1049.2 467.9 1049.2 469.3 1049.1C470.6 1049 471.9 1048.9 473.3 1048.6C474.6 1048.4 475.9 1048.1 477.2 1047.7C478.5 1047.4 479.8 1046.9 481.1 1046.5C482.3 1046 483.6 1045.5 484.8 1045C486 1044.4 487.3 1043.9 488.5 1043.3C489.7 1042.7 490.9 1042 492.1 1041.4C493.2 1040.7 494.4 1040 495.6 1039.4C496.7 1038.7 497.9 1038 499 1037.3C500.1 1036.5 501.3 1035.8 502.4 1035.1C503.5 1034.4 504.6 1033.6 505.7 1032.9C506.8 1032.1 508 1031.4 509.1 1030.6C510.2 1029.9 511.3 1029.1 512.4 1028.4C513.5 1027.6 514.6 1026.8 515.7 1026.1C516.8 1025.3 517.9 1024.6 518.9 1023.8C520 1023.1 521.1 1022.3 522.2 1021.5C523.3 1020.8 524.4 1020 525.5 1019.3C526.6 1018.5 527.7 1017.8 528.8 1017C529.9 1016.3 531 1015.5 532.1 1014.8C533.2 1014.1 534.4 1013.3 535.5 1012.6C536.6 1011.9 537.7 1011.2 538.8 1010.5C539.9 1009.8 541.1 1009.1 542.2 1008.4C543.3 1007.7 544.5 1007 545.6 1006.3C546.8 1005.7 547.9 1005 549.1 1004.4C550.2 1003.7 551.4 1003.1 552.6 1002.5C553.8 1001.9 554.9 1001.3 556.1 1000.7C557.3 1000.1 558.5 999.5 559.7 998.9C560.9 998.4 562.1 997.8 563.3 997.3C564.5 996.8 565.8 996.2 567 995.7C568.2 995.2 569.4 994.7 570.7 994.2C571.9 993.7 573.1 993.2 574.4 992.8C575.6 992.3 576.9 991.8 578.1 991.4C579.4 990.9 580.6 990.5 581.9 990C583.1 989.6 584.4 989.2 585.7 988.8C586.9 988.3 588.2 987.9 589.5 987.5C590.7 987.1 592 986.7 593.3 986.3C594.5 985.9 595.8 985.5 597.1 985.1C598.4 984.7 599.6 984.3 600.9 983.9C602.2 983.5 603.5 983.1 604.7 982.7C606 982.3 607.3 981.9 608.5 981.5C609.8 981.1 611.1 980.7 612.3 980.2C613.6 979.8 614.9 979.4 616.1 978.9C617.4 978.4 618.6 978 619.9 977.5C621.1 977 622.4 976.5 623.6 976C624.8 975.4 626.1 974.9 627.3 974.3C628.5 973.8 629.7 973.2 630.9 972.6C632.1 972 633.3 971.4 634.5 970.8C635.7 970.1 636.9 969.5 638 968.8C639.2 968.1 640.4 967.4 641.5 966.7C642.6 966 643.8 965.2 644.9 964.5C646 963.7 647.1 962.9 648.2 962.1C649.3 961.3 650.3 960.5 651.4 959.6C652.4 958.8 653.5 957.9 654.5 957C655.5 956.2 656.6 955.3 657.5 954.4C658.5 953.4 659.5 952.5 660.5 951.6C661.5 950.6 662.4 949.6 663.3 948.7C664.3 947.7 665.2 946.7 666.1 945.7C667 944.7 667.9 943.7 668.8 942.6C669.7 941.6 670.5 940.6 671.4 939.5C672.3 938.5 673.1 937.4 673.9 936.3C674.7 935.3 675.6 934.2 676.4 933.1C677.2 932 678 930.9 678.7 929.8C679.5 928.7 680.3 927.6 681.1 926.5C681.8 925.4 682.6 924.3 683.4 923.2C684.1 922.1 684.8 920.9 685.6 919.8C686.3 918.7 687.1 917.6 687.8 916.4C688.5 915.3 689.2 914.2 689.9 913C690.6 911.9 691.4 910.8 692.1 909.6C692.8 908.5 693.5 907.3 694.2 906.2C694.8 905 695.5 903.9 696.2 902.7C696.9 901.6 697.6 900.4 698.3 899.3C699 898.1 699.6 897 700.3 895.8C701 894.6 701.6 893.5 702.3 892.3C703 891.2 703.6 890 704.3 888.8C705 887.7 705.6 886.5 706.3 885.3C706.9 884.2 707.6 883 708.3 881.9C708.9 880.7 709.6 879.5 710.2 878.4C710.9 877.2 711.5 876.1 712.2 874.9C712.8 873.7 713.5 872.6 714.2 871.4C714.8 870.3 715.5 869.1 716.1 868C716.8 866.8 717.5 865.7 718.1 864.5C718.8 863.4 719.5 862.3 720.2 861.1C720.8 860 721.5 858.8 722.2 857.7C722.9 856.6 723.6 855.4 724.3 854.3C725 853.2 725.7 852.1 726.4 850.9C727.1 849.8 727.8 848.7 728.5 847.6C729.2 846.5 730 845.4 730.7 844.3C731.4 843.2 732.1 842.1 732.9 841C733.6 839.9 734.4 838.8 735.1 837.7C735.9 836.6 736.6 835.5 737.4 834.5C738.2 833.4 738.9 832.3 739.7 831.2C740.5 830.2 741.3 829.1 742.1 828.1C742.9 827 743.7 826 744.5 825C745.3 823.9 746.2 822.9 747 821.9C747.8 820.9 748.7 819.9 749.6 818.9C750.4 817.9 751.3 816.9 752.2 815.9C753.1 815 754 814 754.9 813.1C755.8 812.1 756.7 811.2 757.7 810.3C758.6 809.4 759.6 808.5 760.5 807.6C761.5 806.7 762.5 805.9 763.5 805C764.5 804.2 765.5 803.4 766.6 802.6C767.6 801.8 768.7 801 769.7 800.2C770.8 799.5 771.9 798.8 773 798.1C774.2 797.4 775.3 796.7 776.4 796.1C777.6 795.5 778.8 794.9 779.9 794.3C781.1 793.8 782.3 793.2 783.6 792.7C784.8 792.3 786 791.8 787.3 791.4C788.5 791 789.8 790.7 791.1 790.4C792.4 790 793.7 789.8 795 789.6C796.3 789.4 797.6 789.2 798.9 789.1C800.3 789 801.6 788.9 802.9 788.9C804.2 788.9 805.6 789 806.9 789C808.2 789.1 809.6 789.3 810.9 789.5C812.2 789.7 813.6 789.9 814.9 790.2C816.2 790.5 817.5 790.8 818.8 791.2C820.1 791.6 821.3 792 822.6 792.5C823.9 792.9 825.1 793.4 826.4 794C827.6 794.5 828.8 795.1 830 795.7C831.3 796.3 832.4 796.9 833.6 797.6C834.8 798.3 835.9 799 837.1 799.7C838.2 800.4 839.3 801.2 840.4 802C841.6 802.8 842.6 803.6 843.7 804.4C844.8 805.2 845.8 806.1 846.9 807C847.9 807.9 848.9 808.8 849.9 809.7C850.9 810.6 851.9 811.5 852.9 812.5C853.8 813.4 854.8 814.4 855.7 815.3C856.7 816.3 857.6 817.3 858.5 818.3C859.4 819.3 860.3 820.3 861.2 821.3C862.1 822.4 863 823.4 863.8 824.5C864.7 825.5 865.5 826.6 866.3 827.6C867.2 828.7 868 829.8 868.8 830.8C869.6 831.9 870.4 833 871.2 834.1C872 835.2 872.8 836.3 873.5 837.4C874.3 838.5 875.1 839.7 875.8 840.8C876.6 841.9 877.3 843 878 844.1C878.8 845.3 879.5 846.4 880.2 847.5C880.9 848.7 881.6 849.8 882.4 850.9C883.1 852.1 883.8 853.2 884.5 854.4C885.2 855.5 885.9 856.6 886.6 857.8C887.3 858.9 888 860.1 888.7 861.2C889.4 862.3 890.1 863.5 890.8 864.6C891.5 865.7 892.1 866.9 892.8 868C893.5 869.2 894.2 870.3 894.9 871.4C895.6 872.6 896.3 873.7 897 874.8C897.7 876 898.4 877.1 899.1 878.3C899.8 879.4 900.5 880.5 901.2 881.7C901.9 882.8 902.6 884 903.3 885.1C904 886.3 904.6 887.4 905.3 888.6C906 889.7 906.7 890.9 907.4 892C908.1 893.2 908.7 894.3 909.4 895.5C910.1 896.6 910.8 897.8 911.4 898.9C912.1 900.1 912.8 901.3 913.4 902.4C914.1 903.6 914.8 904.8 915.4 905.9C916.1 907.1 916.7 908.3 917.4 909.4C918 910.6 918.7 911.8 919.3 913C920 914.1 920.6 915.3 921.2 916.5C921.9 917.7 922.5 918.9 923.1 920.1C923.7 921.2 924.4 922.4 925 923.6C925.6 924.8 926.2 926 926.8 927.2C927.4 928.4 928 929.6 928.7 930.8C929.3 932 929.9 933.2 930.5 934.4C931.1 935.6 931.7 936.8 932.3 938C932.8 939.2 933.4 940.4 934 941.6C934.6 942.8 935.2 944 935.8 945.2C936.4 946.4 937 947.6 937.6 948.8C938.1 950 938.7 951.2 939.3 952.4C939.9 953.6 940.5 954.8 941 956C941.6 957.2 942.2 958.4 942.8 959.6C943.4 960.8 943.9 962 944.5 963.2C945.1 964.4 945.7 965.6 946.2 966.8C946.8 968 947.4 969.2 948 970.4C948.5 971.6 949.1 972.8 949.7 974C950.3 975.2 950.8 976.4 951.4 977.6C952 978.8 952.6 980 953.2 981.2C953.7 982.4 954.3 983.6 954.9 984.8C955.5 986 956 987.2 956.6 988.4C957.2 989.6 957.8 990.8 958.4 992C959 993.2 959.5 994.4 960.1 995.6C960.7 996.8 961.3 998 961.9 999.2C962.5 1000.4 963.1 1001.6 963.7 1002.7C964.3 1003.9 964.9 1005.1 965.5 1006.3C966.1 1007.5 966.7 1008.7 967.3 1009.9C967.9 1011 968.5 1012.2 969.1 1013.4C969.7 1014.6 970.3 1015.8 970.9 1017C971.5 1018.1 972.1 1019.3 972.7 1020.5C973.3 1021.7 974 1022.8 974.6 1024C975.2 1025.2 975.8 1026.4 976.5 1027.5C977.1 1028.7 977.7 1029.9 978.3 1031C979 1032.2 979.6 1033.4 980.2 1034.6C980.9 1035.7 981.5 1036.9 982.1 1038C982.8 1039.2 983.4 1040.4 984.1 1041.5C984.7 1042.7 985.4 1043.8 986 1045C986.7 1046.2 987.3 1047.3 988 1048.5C988.6 1049.6 989.3 1050.8 990 1051.9C990.6 1053.1 991.3 1054.2 992 1055.4C992.6 1056.5 993.3 1057.7 994 1058.8C994.6 1059.9 995.3 1061.1 996 1062.2C996.7 1063.4 997.4 1064.5 998.1 1065.6C998.8 1066.8 999.4 1067.9 1000.1 1069C1000.8 1070.2 1001.5 1071.3 1002.2 1072.4C1002.9 1073.5 1003.6 1074.7 1004.4 1075.8C1005.1 1076.9 1005.8 1078 1006.5 1079.1C1007.2 1080.2 1007.9 1081.4 1008.7 1082.5C1009.4 1083.6 1010.1 1084.7 1010.9 1085.8C1011.6 1086.9 1012.3 1088 1013.1 1089.1C1013.8 1090.2 1014.6 1091.3 1015.3 1092.4C1016.1 1093.5 1016.8 1094.6 1017.6 1095.6C1018.3 1096.7 1019.1 1097.8 1019.9 1098.9C1020.6 1100 1021.4 1101 1022.2 1102.1C1023 1103.2 1023.8 1104.2 1024.6 1105.3C1025.3 1106.4 1026.1 1107.4 1026.9 1108.5C1027.7 1109.5 1028.6 1110.6 1029.4 1111.6C1030.2 1112.7 1031 1113.7 1031.8 1114.7C1032.6 1115.8 1033.5 1116.8 1034.3 1117.8C1035.1 1118.9 1036 1119.9 1036.8 1120.9C1037.7 1121.9 1038.5 1122.9 1039.4 1123.9C1040.3 1124.9 1041.1 1125.9 1042 1126.9C1042.9 1127.9 1043.8 1128.9 1044.7 1129.9C1045.6 1130.8 1046.5 1131.8 1047.4 1132.8C1048.3 1133.7 1049.2 1134.7 1050.1 1135.6C1051 1136.6 1052 1137.5 1052.9 1138.5C1053.8 1139.4 1054.8 1140.3 1055.7 1141.2C1056.7 1142.1 1057.7 1143 1058.6 1143.9C1059.6 1144.8 1060.6 1145.7 1061.6 1146.6C1062.6 1147.5 1063.6 1148.3 1064.6 1149.2C1065.6 1150.1 1066.6 1150.9 1067.6 1151.8C1068.6 1152.6 1069.6 1153.4 1070.7 1154.3C1071.7 1155.1 1072.8 1155.9 1073.8 1156.7C1074.9 1157.5 1075.9 1158.3 1077 1159.1C1078 1159.9 1079.1 1160.7 1080.2 1161.5C1081.3 1162.2 1082.4 1163 1083.4 1163.7C1084.5 1164.5 1085.6 1165.2 1086.7 1166C1087.8 1166.7 1088.9 1167.4 1090.1 1168.2C1091.2 1168.9 1092.3 1169.6 1093.4 1170.3C1094.5 1171 1095.7 1171.7 1096.8 1172.4C1097.9 1173.1 1099.1 1173.8 1100.2 1174.5C1101.3 1175.2 1102.5 1175.8 1103.6 1176.5C1104.8 1177.2 1105.9 1177.8 1107.1 1178.5C1108.3 1179.2 1109.4 1179.8 1110.6 1180.5C1111.7 1181.1 1112.9 1181.8 1114.1 1182.4C1115.2 1183.1 1116.4 1183.7 1117.6 1184.3C1118.7 1185 1119.9 1185.6 1121.1 1186.3C1122.2 1186.9 1123.4 1187.5 1124.6 1188.1C1125.8 1188.8 1126.9 1189.4 1128.1 1190C1129.3 1190.6 1130.5 1191.2 1131.7 1191.8C1132.8 1192.4 1134 1193 1135.2 1193.6C1136.4 1194.2 1137.6 1194.8 1138.8 1195.4C1140 1196 1141.2 1196.6 1142.4 1197.2C1143.6 1197.8 1144.8 1198.3 1146 1198.9C1147.2 1199.5 1148.4 1200 1149.6 1200.6C1150.8 1201.1 1152 1201.7 1153.2 1202.2C1154.4 1202.8 1155.7 1203.3 1156.9 1203.8C1158.1 1204.4 1159.3 1204.9 1160.6 1205.4C1161.8 1205.9 1163 1206.4 1164.2 1206.9C1165.5 1207.4 1166.7 1207.9 1167.9 1208.4C1169.2 1208.9 1170.4 1209.4 1171.7 1209.9C1172.9 1210.3 1174.2 1210.8 1175.4 1211.3C1176.6 1211.7 1177.9 1212.2 1179.1 1212.7C1180.4 1213.1 1181.7 1213.6 1182.9 1214C1184.2 1214.4 1185.4 1214.9 1186.7 1215.3C1187.9 1215.7 1189.2 1216.2 1190.5 1216.6C1191.7 1217 1193 1217.4 1194.3 1217.8C1195.5 1218.2 1196.8 1218.6 1198.1 1219C1199.3 1219.4 1200.6 1219.8 1201.9 1220.2C1203.2 1220.6 1204.4 1221 1205.7 1221.4C1207 1221.8 1208.3 1222.2 1209.5 1222.5C1210.8 1222.9 1212.1 1223.3 1213.4 1223.6C1214.7 1224 1215.9 1224.4 1217.2 1224.7C1218.5 1225.1 1219.8 1225.4 1221.1 1225.8C1222.4 1226.1 1223.6 1226.5 1224.9 1226.8C1226.2 1227.2 1227.5 1227.5 1228.8 1227.9C1230.1 1228.2 1231.4 1228.5 1232.7 1228.9C1234 1229.2 1235.2 1229.5 1236.5 1229.9C1237.8 1230.2 1239.1 1230.5 1240.4 1230.8C1241.7 1231.2 1243 1231.5 1244.3 1231.8C1245.6 1232.1 1246.9 1232.5 1248.2 1232.8C1249.5 1233.1 1250.8 1233.4 1252.1 1233.7C1253.4 1234 1254.6 1234.4 1255.9 1234.7C1257.2 1235 1258.5 1235.3 1259.8 1235.6C1261.1 1235.9 1262.4 1236.2 1263.7 1236.5C1265 1236.8 1266.3 1237.1 1267.6 1237.4C1268.9 1237.7 1270.2 1238 1271.5 1238.3C1272.8 1238.6 1274.1 1238.9 1275.4 1239.2C1276.7 1239.5 1278 1239.8 1279.3 1240.1C1280.6 1240.4 1281.9 1240.7 1283.2 1241C1284.5 1241.2 1285.8 1241.5 1287.1 1241.8C1288.4 1242.1 1289.7 1242.4 1291 1242.7C1292.3 1242.9 1293.6 1243.2 1294.9 1243.5C1296.2 1243.8 1297.6 1244 1298.9 1244.3C1300.2 1244.6 1301.5 1244.8 1302.8 1245.1C1304.1 1245.4 1305.4 1245.6 1306.7 1245.9C1308 1246.2 1309.3 1246.4 1310.6 1246.7C1311.9 1246.9 1313.2 1247.2 1314.5 1247.5C1315.8 1247.7 1317.2 1248 1318.5 1248.2C1319.8 1248.5 1321.1 1248.7 1322.4 1249C1323.7 1249.2 1325 1249.4 1326.3 1249.7C1327.6 1249.9 1329 1250.2 1330.3 1250.4C1331.6 1250.6 1332.9 1250.9 1334.2 1251.1C1335.5 1251.3 1336.8 1251.6 1338.1 1251.8C1339.5 1252 1340.8 1252.2 1342.1 1252.5C1343.4 1252.7 1344.7 1252.9 1346 1253.1C1347.3 1253.3 1348.7 1253.5 1350 1253.8C1351.3 1254 1352.6 1254.2 1353.9 1254.4C1355.2 1254.6 1356.6 1254.8 1357.9 1255C1359.2 1255.2 1360.5 1255.4 1361.8 1255.6C1363.1 1255.8 1364.5 1256 1365.8 1256.2C1367.1 1256.4 1368.4 1256.6 1369.7 1256.8C1371.1 1256.9 1372.4 1257.1 1373.7 1257.3C1375 1257.5 1376.3 1257.7 1377.7 1257.9C1379 1258 1380.3 1258.2 1381.6 1258.4C1382.9 1258.6 1384.3 1258.7 1385.6 1258.9C1386.9 1259.1 1388.2 1259.3 1389.6 1259.4C1390.9 1259.6 1392.2 1259.8 1393.5 1259.9C1394.8 1260.1 1396.2 1260.2 1397.5 1260.4C1398.8 1260.6 1400.1 1260.7 1401.5 1260.9C1402.8 1261 1404.1 1261.2 1405.4 1261.3C1406.8 1261.5 1408.1 1261.6 1409.4 1261.8C1410.7 1261.9 1412.1 1262.1 1413.4 1262.2C1414.7 1262.3 1416 1262.5 1417.4 1262.6C1418.7 1262.7 1420 1262.9 1421.3 1263C1422.7 1263.1 1424 1263.3 1425.3 1263.4C1426.7 1263.5 1428 1263.7 1429.3 1263.8C1430.6 1263.9 1432 1264 1433.3 1264.2C1434.6 1264.3 1435.9 1264.4 1437.3 1264.5C1438.6 1264.6 1439.9 1264.8 1441.3 1264.9C1442.6 1265 1443.9 1265.1 1445.2 1265.2C1446.6 1265.3 1447.9 1265.4 1449.2 1265.5C1450.6 1265.6 1451.9 1265.7 1453.2 1265.8C1454.5 1265.9 1455.9 1266.1 1457.2 1266.2C1458.5 1266.2 1459.9 1266.3 1461.2 1266.4C1462.5 1266.5 1463.9 1266.6 1465.2 1266.7C1466.5 1266.8 1467.8 1266.9 1469.2 1267C1470.5 1267.1 1471.8 1267.2 1473.2 1267.3C1474.5 1267.3 1475.8 1267.4 1477.2 1267.5C1478.5 1267.6 1479.8 1267.7 1481.1 1267.8C1482.5 1267.8 1483.8 1267.9 1485.1 1268C1486.5 1268.1 1487.8 1268.1 1489.1 1268.2C1490.5 1268.3 1491.8 1268.4 1493.1 1268.4C1494.5 1268.5 1495.8 1268.6 1497.1 1268.6C1498.5 1268.7 1499.8 1268.8 1501.1 1268.8C1502.5 1268.9 1503.8 1269 1505.1 1269C1506.4 1269.1 1507.8 1269.1 1509.1 1269.2C1510.4 1269.2 1511.8 1269.3 1513.1 1269.4C1514.4 1269.4 1515.8 1269.5 1517.1 1269.5C1518.4 1269.6 1519.8 1269.6 1521.1 1269.7C1522.4 1269.7 1523.8 1269.8 1525.1 1269.8C1526.4 1269.9 1527.8 1269.9 1529.1 1270C1530.4 1270 1531.8 1270 1533.1 1270.1C1534.4 1270.1 1535.8 1270.2 1537.1 1270.2C1538.4 1270.2 1539.8 1270.3 1541.1 1270.3C1542.4 1270.4 1543.8 1270.4 1545.1 1270.4C1546.4 1270.5 1547.8 1270.5 1549.1 1270.5C1550.4 1270.6 1551.8 1270.6 1553.1 1270.6C1554.4 1270.6 1555.8 1270.7 1557.1 1270.7C1558.4 1270.7 1559.8 1270.8 1561.1 1270.8C1562.4 1270.8 1563.7 1270.8 1565.1 1270.9C1566.4 1270.9 1567.7 1270.9 1569.1 1270.9C1570.4 1270.9 1571.7 1271 1573.1 1271C1574.4 1271 1575.7 1271 1577.1 1271C1578.4 1271 1579.7 1271.1 1581.1 1271.1C1582.4 1271.1 1583.7 1271.1 1585.1 1271.1C1586.4 1271.1 1587.7 1271.1 1589.1 1271.2C1590.4 1271.2 1591.7 1271.2 1593.1 1271.2C1594.4 1271.2 1595.7 1271.2 1597.1 1271.2C1598.4 1271.2 1599.7 1271.2 1601.1 1271.2C1602.4 1271.2 1603.7 1271.2 1605.1 1271.2C1606.4 1271.3 1607.7 1271.3 1609.1 1271.3C1610.4 1271.3 1611.7 1271.3 1613.1 1271.3C1614.4 1271.3 1615.7 1271.3 1617.1 1271.3C1618.4 1271.3 1619.7 1271.3 1621.1 1271.3C1622.4 1271.3 1623.7 1271.3 1625.1 1271.3C1626.4 1271.3 1627.7 1271.2 1629.1 1271.2C1630.4 1271.2 1631.7 1271.2 1633.1 1271.2C1634.4 1271.2 1635.7 1271.2 1637.1 1271.2C1638.4 1271.2 1639.7 1271.2 1641.1 1271.2C1642.4 1271.2 1643.7 1271.2 1645.1 1271.2C1646.4 1271.2 1647.7 1271.1 1649.1 1271.1C1650.4 1271.1 1651.7 1271.1 1653.1 1271.1C1654.4 1271.1 1655.7 1271.1 1657.1 1271.1C1658.4 1271.1 1659.7 1271 1661.1 1271C1662.4 1271 1663.7 1271 1665.1 1271C1666.4 1271 1667.7 1271 1669.1 1271C1670.4 1270.9 1671.7 1270.9 1673.1 1270.9C1674.4 1270.9 1675.7 1270.9 1677.1 1270.9C1678.4 1270.8 1679.7 1270.8 1681.1 1270.8C1682.4 1270.8 1683.7 1270.8 1685.1 1270.8C1686.4 1270.7 1687.7 1270.7 1689.1 1270.7C1690.4 1270.7 1691.7 1270.7 1693.1 1270.7C1694.4 1270.6 1695.7 1270.6 1697.1 1270.6C1698.4 1270.6 1699.7 1270.6 1701.1 1270.5C1702.4 1270.5 1703.7 1270.5 1705.1 1270.5C1706.4 1270.5 1707.7 1270.5 1709.1 1270.4C1710.4 1270.4 1711.7 1270.4 1713.1 1270.4C1714.4 1270.4 1715.7 1270.3 1717.1 1270.3C1718.4 1270.3 1719.7 1270.3 1721.1 1270.3C1722.4 1270.2 1723.7 1270.2 1725.1 1270.2C1726.4 1270.2 1727.7 1270.2 1729.1 1270.1C1730.4 1270.1 1731.7 1270.1 1733.1 1270.1C1734.4 1270.1 1735.7 1270.1 1737.1 1270C1738.4 1270 1739.7 1270 1741.1 1270C1742.4 1270 1743.7 1269.9 1745.1 1269.9C1746.4 1269.9 1747.7 1269.9 1749.1 1269.9C1750.4 1269.8 1751.7 1269.8 1753.1 1269.8C1754.4 1269.8 1755.7 1269.8 1757.1 1269.8C1758.4 1269.7 1759.7 1269.7 1761.1 1269.7C1762.4 1269.7 1763.7 1269.7 1765.1 1269.7C1766.4 1269.6 1767.7 1269.6 1769.1 1269.6C1770.4 1269.6 1771.7 1269.6 1773.1 1269.6C1774.4 1269.5 1775.7 1269.5 1777.1 1269.5C1778.4 1269.5 1779.7 1269.5 1781.1 1269.5C1782.4 1269.5 1783.7 1269.4 1785.1 1269.4C1786.4 1269.4 1787.7 1269.4 1789.1 1269.4C1790.4 1269.4 1791.7 1269.4 1793.1 1269.4C1794.4 1269.3 1795.7 1269.3 1797.1 1269.3C1798.4 1269.3 1799.7 1269.3 1801.1 1269.3C1802.4 1269.3 1803.7 1269.3 1805.1 1269.3C1806.4 1269.3 1807.7 1269.2 1809.1 1269.2C1810.4 1269.2 1811.7 1269.2 1813.1 1269.2C1814.4 1269.2 1815.7 1269.2 1817.1 1269.2C1818.4 1269.2 1819.7 1269.2 1821.1 1269.2C1822.4 1269.2 1823.7 1269.2 1825.1 1269.2C1826.4 1269.2 1827.7 1269.2 1829.1 1269.2C1830.4 1269.2 1831.7 1269.2 1833.1 1269.2C1834.4 1269.2 1835.7 1269.2 1837.1 1269.2C1838.4 1269.2 1839.7 1269.2 1841.1 1269.2C1842.4 1269.2 1843.7 1269.2 1845.1 1269.2C1846.4 1269.2 1847.7 1269.2 1849.1 1269.2C1850.4 1269.2 1851.7 1269.2 1853.1 1269.2C1854.4 1269.2 1855.7 1269.3 1857.1 1269.3C1858.4 1269.3 1859.7 1269.3 1861.1 1269.3C1862.4 1269.3 1864.1 1269.3 1865.1 1269.3C1866.1 1269.4 1865.2 1269.4 1867 1269.4C1868.8 1269.4 1874.5 1269.4 1876 1269.4"/><path stroke="#8A9BFF" d="M302.1 810.3C302.3 809 302.9 805.1 303.3 802.7C303.7 800.2 304.1 797.7 304.5 795.4C304.9 793 305.3 790.7 305.7 788.4C306.1 786.2 306.5 784 306.9 781.8C307.3 779.7 307.7 777.6 308.1 775.6C308.5 773.5 308.9 771.6 309.3 769.6C309.7 767.7 310.1 765.8 310.5 764C310.9 762.2 311.3 760.4 311.7 758.7C312.1 757 312.5 755.4 312.9 753.8C313.3 752.2 313.7 750.6 314.1 749.1C314.5 747.6 314.9 746.2 315.3 744.8C315.7 743.4 316.1 742.1 316.5 740.8C316.9 739.5 317.3 738.3 317.7 737.1C318.1 735.9 318.5 734.7 319 733.5C319.4 732.3 319.9 731.1 320.4 729.9C320.9 728.8 321.4 727.6 321.9 726.5C322.5 725.4 323.1 724.3 323.7 723.2C324.3 722.2 325 721.1 325.7 720.2C326.5 719.3 327.3 718.4 328.2 717.7C329.2 717 330.2 716.3 331.4 716.2C332.6 716 334 716.2 335.3 716.8C336.6 717.4 337.8 718.6 338.9 719.6C339.9 720.7 340.8 721.9 341.6 723.1C342.4 724.3 343.1 725.6 343.8 726.8C344.5 728.1 345.1 729.3 345.8 730.6C346.4 731.8 346.9 733.1 347.5 734.4C348 735.7 348.6 736.9 349.1 738.2C349.6 739.5 350.1 740.8 350.6 742.1C351 743.3 351.5 744.6 352 745.9C352.4 747.2 352.9 748.5 353.3 749.8C353.7 751.1 354.1 752.4 354.6 753.7C355 755 355.4 756.2 355.8 757.6C356.2 758.9 356.6 760.2 357 761.5C357.4 762.9 357.8 764.2 358.2 765.6C358.6 767 359 768.4 359.4 769.8C359.8 771.2 360.2 772.7 360.6 774.1C361 775.6 361.4 777.1 361.8 778.6C362.2 780.1 362.6 781.6 363 783.1C363.4 784.6 363.8 786.2 364.2 787.7C364.6 789.3 365 790.8 365.4 792.4C365.8 794 366.2 795.5 366.6 797.1C367 798.7 367.4 800.3 367.8 801.9C368.2 803.6 368.6 805.2 369 806.8C369.4 808.4 369.8 810.1 370.2 811.7C370.6 813.3 371 815 371.4 816.6C371.8 818.3 372.2 819.9 372.6 821.6C373 823.2 373.4 824.9 373.8 826.5C374.2 828.2 374.6 829.8 375 831.5C375.4 833.1 375.8 834.8 376.2 836.4C376.6 838.1 377 839.7 377.4 841.4C377.8 843 378.2 844.7 378.6 846.3C379 848 379.4 849.6 379.8 851.3C380.2 852.9 380.6 854.5 381 856.2C381.4 857.8 381.8 859.4 382.2 861.1C382.6 862.7 383 864.3 383.4 865.9C383.8 867.6 384.2 869.2 384.6 870.8C385 872.4 385.4 874 385.8 875.6C386.2 877.2 386.6 878.8 387 880.4C387.4 882 387.8 883.6 388.2 885.1C388.6 886.7 389 888.3 389.4 889.8C389.8 891.4 390.2 893 390.6 894.5C391 896 391.4 897.6 391.8 899.1C392.2 900.6 392.6 902.2 393 903.7C393.4 905.2 393.8 906.7 394.2 908.2C394.6 909.7 395 911.2 395.4 912.6C395.8 914.1 396.2 915.6 396.6 917C397 918.5 397.4 919.9 397.8 921.4C398.2 922.8 398.6 924.2 399 925.6C399.4 927 399.8 928.4 400.2 929.8C400.6 931.2 401 932.5 401.4 933.9C401.8 935.3 402.2 936.6 402.6 937.9C403 939.3 403.4 940.6 403.8 941.9C404.2 943.2 404.6 944.5 405 945.7C405.4 947 405.8 948.3 406.2 949.5C406.6 950.8 407 952.1 407.4 953.3C407.8 954.6 408.2 955.8 408.6 957.1C409.1 958.3 409.5 959.6 409.9 960.8C410.3 962.1 410.8 963.3 411.2 964.6C411.6 965.8 412.1 967 412.5 968.3C413 969.5 413.4 970.8 413.9 972C414.3 973.2 414.8 974.5 415.3 975.7C415.7 976.9 416.2 978.2 416.7 979.4C417.2 980.6 417.7 981.8 418.2 983C418.6 984.3 419.1 985.5 419.7 986.7C420.2 987.9 420.7 989.1 421.2 990.3C421.7 991.5 422.2 992.7 422.8 993.9C423.3 995.1 423.9 996.3 424.4 997.5C425 998.7 425.5 999.9 426.1 1001.1C426.7 1002.2 427.3 1003.4 427.9 1004.6C428.5 1005.7 429.1 1006.9 429.7 1008C430.3 1009.2 430.9 1010.3 431.6 1011.5C432.2 1012.6 432.9 1013.7 433.6 1014.8C434.2 1016 434.9 1017.1 435.6 1018.2C436.3 1019.2 437.1 1020.3 437.8 1021.4C438.5 1022.5 439.3 1023.5 440.1 1024.5C440.9 1025.6 441.7 1026.6 442.5 1027.6C443.3 1028.6 444.2 1029.5 445.1 1030.5C445.9 1031.4 446.9 1032.3 447.8 1033.2C448.7 1034.1 449.7 1035 450.7 1035.8C451.7 1036.6 452.8 1037.4 453.8 1038.1C454.9 1038.8 456 1039.5 457.2 1040.1C458.3 1040.7 459.5 1041.2 460.7 1041.7C461.9 1042.1 463.2 1042.5 464.4 1042.8C465.7 1043.1 467 1043.3 468.3 1043.4C469.6 1043.6 471 1043.6 472.3 1043.5C473.6 1043.5 475 1043.3 476.3 1043.1C477.6 1042.8 478.9 1042.5 480.2 1042.2C481.5 1041.8 482.8 1041.4 484.1 1040.9C485.4 1040.4 486.6 1039.9 487.8 1039.3C489.1 1038.8 490.3 1038.2 491.5 1037.6C492.7 1036.9 493.9 1036.3 495 1035.6C496.2 1035 497.4 1034.3 498.5 1033.6C499.7 1032.9 500.8 1032.2 501.9 1031.5C503.1 1030.8 504.2 1030 505.3 1029.3C506.4 1028.6 507.6 1027.9 508.7 1027.1C509.8 1026.4 510.9 1025.7 512 1024.9C513.1 1024.2 514.3 1023.5 515.4 1022.7C516.5 1022 517.6 1021.2 518.7 1020.5C519.8 1019.8 520.9 1019 522 1018.3C523.1 1017.6 524.2 1016.8 525.4 1016.1C526.5 1015.3 527.6 1014.6 528.7 1013.9C529.8 1013.1 530.9 1012.4 532 1011.7C533.1 1011 534.3 1010.2 535.4 1009.5C536.5 1008.8 537.6 1008.1 538.7 1007.4C539.9 1006.7 541 1006 542.1 1005.3C543.3 1004.6 544.4 1003.9 545.5 1003.2C546.7 1002.5 547.8 1001.8 549 1001.1C550.1 1000.5 551.2 999.8 552.4 999.1C553.6 998.5 554.7 997.8 555.9 997.2C557 996.6 558.2 995.9 559.4 995.3C560.6 994.7 561.7 994.1 562.9 993.4C564.1 992.8 565.3 992.2 566.5 991.6C567.7 991.1 568.9 990.5 570.1 989.9C571.3 989.3 572.5 988.8 573.7 988.2C574.9 987.6 576.1 987.1 577.3 986.5C578.5 986 579.7 985.5 580.9 984.9C582.2 984.4 583.4 983.9 584.6 983.4C585.8 982.9 587.1 982.4 588.3 981.9C589.5 981.4 590.8 980.9 592 980.4C593.3 980 594.5 979.5 595.8 979C597 978.6 598.3 978.1 599.5 977.7C600.8 977.2 602 976.8 603.3 976.4C604.6 976 605.8 975.6 607.1 975.1C608.3 974.7 609.6 974.3 610.9 973.9C612.2 973.5 613.4 973.1 614.7 972.7C616 972.2 617.2 971.8 618.5 971.4C619.7 970.9 621 970.5 622.3 970C623.5 969.5 624.8 969 626 968.5C627.2 968 628.5 967.4 629.7 966.9C630.9 966.3 632.1 965.7 633.3 965.1C634.5 964.5 635.7 963.9 636.9 963.2C638.1 962.5 639.2 961.8 640.3 961.1C641.5 960.3 642.6 959.6 643.7 958.8C644.8 958 645.9 957.2 647 956.3C648 955.5 649.1 954.6 650.1 953.8C651.1 952.9 652.2 952 653.2 951.1C654.2 950.2 655.1 949.2 656.1 948.3C657.1 947.3 658 946.4 659 945.4C659.9 944.4 660.8 943.5 661.8 942.5C662.7 941.5 663.6 940.5 664.5 939.4C665.4 938.4 666.2 937.4 667.1 936.4C668 935.3 668.8 934.3 669.7 933.2C670.5 932.2 671.3 931.1 672.2 930.1C673 929 673.8 927.9 674.6 926.8C675.4 925.8 676.2 924.7 677 923.6C677.8 922.5 678.6 921.4 679.3 920.3C680.1 919.2 680.9 918.1 681.6 917C682.4 915.8 683.1 914.7 683.9 913.6C684.6 912.5 685.4 911.3 686.1 910.2C686.8 909.1 687.5 908 688.3 906.8C689 905.7 689.7 904.5 690.4 903.4C691.1 902.3 691.8 901.1 692.5 900C693.2 898.8 693.9 897.7 694.6 896.6C695.3 895.4 696 894.3 696.7 893.1C697.4 892 698 890.8 698.7 889.7C699.4 888.5 700.1 887.4 700.8 886.2C701.5 885.1 702.1 883.9 702.8 882.8C703.5 881.7 704.2 880.5 704.9 879.4C705.6 878.2 706.2 877.1 706.9 875.9C707.6 874.8 708.3 873.6 709 872.5C709.7 871.4 710.3 870.2 711 869.1C711.7 868 712.4 866.8 713.1 865.7C713.8 864.6 714.5 863.4 715.2 862.3C715.9 861.2 716.6 860.1 717.3 858.9C718 857.8 718.7 856.7 719.4 855.6C720.2 854.4 720.9 853.3 721.6 852.2C722.3 851.1 723 850 723.8 848.9C724.5 847.8 725.2 846.7 725.9 845.5C726.7 844.4 727.4 843.3 728.2 842.2C728.9 841.1 729.6 840 730.4 838.9C731.1 837.8 731.9 836.7 732.6 835.7C733.4 834.6 734.1 833.5 734.9 832.4C735.7 831.3 736.4 830.2 737.2 829.1C738 828.1 738.8 827 739.5 825.9C740.3 824.9 741.1 823.8 741.9 822.7C742.7 821.7 743.5 820.6 744.3 819.6C745.1 818.5 745.9 817.5 746.7 816.5C747.6 815.4 748.4 814.4 749.2 813.4C750.1 812.4 750.9 811.4 751.8 810.3C752.6 809.3 753.5 808.4 754.4 807.4C755.2 806.4 756.1 805.4 757 804.4C757.9 803.5 758.8 802.5 759.8 801.6C760.7 800.7 761.6 799.7 762.6 798.8C763.5 797.9 764.5 797 765.4 796.2C766.4 795.3 767.4 794.4 768.4 793.6C769.4 792.8 770.5 792 771.5 791.2C772.6 790.4 773.6 789.6 774.7 788.9C775.8 788.2 776.9 787.5 778.1 786.9C779.2 786.2 780.4 785.6 781.6 785C782.7 784.5 783.9 783.9 785.2 783.4C786.4 783 787.6 782.5 788.9 782.1C790.1 781.7 791.4 781.4 792.7 781C794 780.7 795.3 780.5 796.6 780.3C797.9 780 799.2 779.9 800.5 779.8C801.8 779.6 803.2 779.6 804.5 779.5C805.8 779.5 807.2 779.5 808.5 779.5C809.8 779.6 811.2 779.7 812.5 779.8C813.8 780 815.1 780.1 816.5 780.4C817.8 780.6 819.1 780.8 820.4 781.2C821.7 781.5 823 781.8 824.3 782.2C825.6 782.6 826.9 783 828.1 783.5C829.4 784 830.6 784.5 831.9 785C833.1 785.6 834.3 786.2 835.5 786.8C836.7 787.4 837.9 788.1 839.1 788.8C840.3 789.4 841.4 790.2 842.5 790.9C843.7 791.7 844.8 792.4 845.9 793.2C847 794 848 794.8 849.1 795.7C850.2 796.5 851.2 797.4 852.2 798.3C853.3 799.2 854.3 800.1 855.3 801C856.3 801.9 857.2 802.9 858.2 803.8C859.2 804.8 860.1 805.8 861 806.7C862 807.7 862.9 808.7 863.8 809.7C864.7 810.8 865.5 811.8 866.4 812.8C867.3 813.9 868.1 814.9 869 816C869.8 817 870.7 818.1 871.5 819.2C872.3 820.2 873.1 821.3 873.9 822.4C874.7 823.5 875.5 824.6 876.3 825.7C877.1 826.8 877.8 827.9 878.6 829C879.3 830.1 880.1 831.3 880.8 832.4C881.6 833.5 882.3 834.6 883 835.8C883.8 836.9 884.5 838 885.2 839.2C885.9 840.3 886.6 841.5 887.3 842.6C888 843.8 888.7 844.9 889.4 846.1C890.1 847.2 890.8 848.4 891.4 849.5C892.1 850.7 892.8 851.9 893.5 853C894.1 854.2 894.8 855.4 895.4 856.5C896.1 857.7 896.8 858.9 897.4 860C898.1 861.2 898.7 862.4 899.3 863.6C900 864.8 900.6 865.9 901.3 867.1C901.9 868.3 902.5 869.5 903.2 870.7C903.8 871.8 904.4 873 905 874.2C905.7 875.4 906.3 876.6 906.9 877.8C907.5 879 908.1 880.1 908.7 881.3C909.4 882.5 910 883.7 910.6 884.9C911.2 886.1 911.8 887.3 912.4 888.5C913 889.7 913.6 890.9 914.2 892.1C914.8 893.3 915.4 894.5 916 895.7C916.6 896.8 917.2 898 917.8 899.2C918.4 900.4 919 901.6 919.6 902.8C920.2 904 920.7 905.2 921.3 906.4C921.9 907.6 922.5 908.8 923.1 910C923.7 911.2 924.3 912.4 924.8 913.6C925.4 914.8 926 916 926.6 917.2C927.2 918.4 927.8 919.6 928.3 920.8C928.9 922 929.5 923.2 930.1 924.5C930.7 925.7 931.2 926.9 931.8 928.1C932.4 929.3 933 930.5 933.6 931.7C934.1 932.9 934.7 934.1 935.3 935.3C935.9 936.5 936.4 937.7 937 938.9C937.6 940.1 938.2 941.3 938.7 942.5C939.3 943.7 939.9 944.9 940.5 946.1C941.1 947.3 941.6 948.5 942.2 949.7C942.8 950.9 943.4 952.1 944 953.3C944.5 954.5 945.1 955.7 945.7 956.9C946.3 958.1 946.9 959.3 947.4 960.5C948 961.7 948.6 962.9 949.2 964.1C949.8 965.3 950.3 966.5 950.9 967.7C951.5 968.9 952.1 970 952.7 971.2C953.3 972.4 953.9 973.6 954.5 974.8C955 976 955.6 977.2 956.2 978.4C956.8 979.6 957.4 980.8 958 982C958.6 983.2 959.2 984.4 959.8 985.5C960.4 986.7 961 987.9 961.6 989.1C962.2 990.3 962.8 991.5 963.4 992.7C964 993.8 964.6 995 965.2 996.2C965.8 997.4 966.4 998.6 967 999.8C967.6 1000.9 968.3 1002.1 968.9 1003.3C969.5 1004.5 970.1 1005.7 970.7 1006.8C971.3 1008 971.9 1009.2 972.6 1010.4C973.2 1011.6 973.8 1012.7 974.4 1013.9C975 1015.1 975.7 1016.3 976.3 1017.4C976.9 1018.6 977.5 1019.8 978.2 1020.9C978.8 1022.1 979.4 1023.3 980.1 1024.5C980.7 1025.6 981.3 1026.8 982 1028C982.6 1029.1 983.3 1030.3 983.9 1031.4C984.5 1032.6 985.2 1033.8 985.8 1034.9C986.5 1036.1 987.1 1037.3 987.8 1038.4C988.4 1039.6 989.1 1040.7 989.7 1041.9C990.4 1043 991.1 1044.2 991.7 1045.3C992.4 1046.5 993 1047.6 993.7 1048.8C994.4 1049.9 995.1 1051.1 995.7 1052.2C996.4 1053.4 997.1 1054.5 997.7 1055.7C998.4 1056.8 999.1 1057.9 999.8 1059.1C1000.5 1060.2 1001.2 1061.4 1001.8 1062.5C1002.5 1063.6 1003.2 1064.8 1003.9 1065.9C1004.6 1067 1005.3 1068.1 1006 1069.3C1006.7 1070.4 1007.4 1071.5 1008.1 1072.6C1008.8 1073.8 1009.6 1074.9 1010.3 1076C1011 1077.1 1011.7 1078.2 1012.4 1079.3C1013.2 1080.4 1013.9 1081.6 1014.6 1082.7C1015.4 1083.8 1016.1 1084.9 1016.8 1086C1017.6 1087.1 1018.3 1088.2 1019.1 1089.3C1019.8 1090.4 1020.6 1091.4 1021.3 1092.5C1022.1 1093.6 1022.8 1094.7 1023.6 1095.8C1024.4 1096.9 1025.1 1097.9 1025.9 1099C1026.7 1100.1 1027.5 1101.2 1028.3 1102.2C1029.1 1103.3 1029.8 1104.4 1030.6 1105.4C1031.4 1106.5 1032.2 1107.5 1033.1 1108.6C1033.9 1109.6 1034.7 1110.7 1035.5 1111.7C1036.3 1112.7 1037.1 1113.8 1038 1114.8C1038.8 1115.8 1039.7 1116.8 1040.5 1117.9C1041.3 1118.9 1042.2 1119.9 1043.1 1120.9C1043.9 1121.9 1044.8 1122.9 1045.7 1123.9C1046.5 1124.9 1047.4 1125.9 1048.3 1126.8C1049.2 1127.8 1050.1 1128.8 1051 1129.7C1051.9 1130.7 1052.8 1131.7 1053.7 1132.6C1054.7 1133.6 1055.6 1134.5 1056.5 1135.4C1057.5 1136.4 1058.4 1137.3 1059.3 1138.2C1060.3 1139.2 1061.3 1140.1 1062.2 1141C1063.2 1141.9 1064.2 1142.8 1065.1 1143.7C1066.1 1144.6 1067.1 1145.4 1068.1 1146.3C1069.1 1147.2 1070.1 1148 1071.1 1148.9C1072.1 1149.8 1073.1 1150.6 1074.2 1151.4C1075.2 1152.3 1076.2 1153.1 1077.3 1153.9C1078.3 1154.8 1079.3 1155.6 1080.4 1156.4C1081.4 1157.2 1082.5 1158 1083.6 1158.7C1084.6 1159.5 1085.7 1160.3 1086.8 1161.1C1087.9 1161.8 1089 1162.6 1090.1 1163.3C1091.2 1164.1 1092.3 1164.8 1093.4 1165.6C1094.5 1166.3 1095.6 1167 1096.7 1167.7C1097.8 1168.4 1099 1169.1 1100.1 1169.8C1101.2 1170.5 1102.4 1171.2 1103.5 1171.9C1104.6 1172.5 1105.8 1173.2 1106.9 1173.9C1108.1 1174.5 1109.3 1175.2 1110.4 1175.8C1111.6 1176.5 1112.7 1177.1 1113.9 1177.7C1115.1 1178.3 1116.3 1179 1117.4 1179.6C1118.6 1180.2 1119.8 1180.8 1121 1181.4C1122.2 1182 1123.4 1182.6 1124.6 1183.1C1125.8 1183.7 1127 1184.3 1128.2 1184.9C1129.4 1185.4 1130.6 1186 1131.8 1186.6C1133 1187.1 1134.2 1187.7 1135.4 1188.2C1136.6 1188.8 1137.8 1189.3 1139.1 1189.9C1140.3 1190.4 1141.5 1190.9 1142.7 1191.5C1143.9 1192 1145.2 1192.5 1146.4 1193.1C1147.6 1193.6 1148.8 1194.1 1150.1 1194.6C1151.3 1195.2 1152.5 1195.7 1153.7 1196.2C1155 1196.7 1156.2 1197.2 1157.4 1197.7C1158.6 1198.3 1159.9 1198.8 1161.1 1199.3C1162.3 1199.8 1163.6 1200.3 1164.8 1200.8C1166.1 1201.3 1167.3 1201.8 1168.5 1202.2C1169.8 1202.7 1171 1203.2 1172.2 1203.7C1173.5 1204.2 1174.7 1204.7 1176 1205.2C1177.2 1205.6 1178.5 1206.1 1179.7 1206.6C1181 1207.1 1182.2 1207.5 1183.4 1208C1184.7 1208.5 1185.9 1208.9 1187.2 1209.4C1188.4 1209.8 1189.7 1210.3 1190.9 1210.7C1192.2 1211.2 1193.5 1211.7 1194.7 1212.1C1196 1212.5 1197.2 1213 1198.5 1213.4C1199.7 1213.9 1201 1214.3 1202.2 1214.7C1203.5 1215.2 1204.8 1215.6 1206 1216C1207.3 1216.5 1208.6 1216.9 1209.8 1217.3C1211.1 1217.7 1212.3 1218.2 1213.6 1218.6C1214.9 1219 1216.1 1219.4 1217.4 1219.8C1218.7 1220.2 1219.9 1220.6 1221.2 1221C1222.5 1221.5 1223.8 1221.9 1225 1222.3C1226.3 1222.7 1227.6 1223 1228.8 1223.4C1230.1 1223.8 1231.4 1224.2 1232.7 1224.6C1233.9 1225 1235.2 1225.4 1236.5 1225.8C1237.8 1226.1 1239 1226.5 1240.3 1226.9C1241.6 1227.3 1242.9 1227.6 1244.2 1228C1245.4 1228.4 1246.7 1228.7 1248 1229.1C1249.3 1229.5 1250.6 1229.8 1251.9 1230.2C1253.1 1230.6 1254.4 1230.9 1255.7 1231.3C1257 1231.6 1258.3 1232 1259.6 1232.3C1260.9 1232.6 1262.1 1233 1263.4 1233.3C1264.7 1233.7 1266 1234 1267.3 1234.3C1268.6 1234.7 1269.9 1235 1271.2 1235.3C1272.5 1235.7 1273.8 1236 1275 1236.3C1276.3 1236.6 1277.6 1237 1278.9 1237.3C1280.2 1237.6 1281.5 1237.9 1282.8 1238.2C1284.1 1238.5 1285.4 1238.8 1286.7 1239.2C1288 1239.5 1289.3 1239.8 1290.6 1240.1C1291.9 1240.4 1293.2 1240.7 1294.5 1241C1295.8 1241.3 1297.1 1241.5 1298.4 1241.8C1299.7 1242.1 1301 1242.4 1302.3 1242.7C1303.6 1243 1304.9 1243.3 1306.2 1243.6C1307.5 1243.8 1308.8 1244.1 1310.1 1244.4C1311.4 1244.7 1312.7 1244.9 1314 1245.2C1315.3 1245.5 1316.6 1245.7 1317.9 1246C1319.2 1246.3 1320.6 1246.5 1321.9 1246.8C1323.2 1247 1324.5 1247.3 1325.8 1247.6C1327.1 1247.8 1328.4 1248.1 1329.7 1248.3C1331 1248.6 1332.3 1248.8 1333.6 1249.1C1334.9 1249.3 1336.3 1249.5 1337.6 1249.8C1338.9 1250 1340.2 1250.3 1341.5 1250.5C1342.8 1250.7 1344.1 1251 1345.4 1251.2C1346.8 1251.4 1348.1 1251.6 1349.4 1251.9C1350.7 1252.1 1352 1252.3 1353.3 1252.5C1354.6 1252.8 1356 1253 1357.3 1253.2C1358.6 1253.4 1359.9 1253.6 1361.2 1253.8C1362.5 1254 1363.9 1254.3 1365.2 1254.5C1366.5 1254.7 1367.8 1254.9 1369.1 1255.1C1370.4 1255.3 1371.8 1255.5 1373.1 1255.7C1374.4 1255.9 1375.7 1256.1 1377 1256.2C1378.3 1256.4 1379.7 1256.6 1381 1256.8C1382.3 1257 1383.6 1257.2 1384.9 1257.4C1386.3 1257.6 1387.6 1257.7 1388.9 1257.9C1390.2 1258.1 1391.6 1258.3 1392.9 1258.4C1394.2 1258.6 1395.5 1258.8 1396.8 1259C1398.2 1259.1 1399.5 1259.3 1400.8 1259.5C1402.1 1259.6 1403.5 1259.8 1404.8 1260C1406.1 1260.1 1407.4 1260.3 1408.7 1260.4C1410.1 1260.6 1411.4 1260.7 1412.7 1260.9C1414 1261.1 1415.4 1261.2 1416.7 1261.4C1418 1261.5 1419.3 1261.6 1420.7 1261.8C1422 1261.9 1423.3 1262.1 1424.6 1262.2C1426 1262.4 1427.3 1262.5 1428.6 1262.6C1429.9 1262.8 1431.3 1262.9 1432.6 1263C1433.9 1263.2 1435.3 1263.3 1436.6 1263.4C1437.9 1263.6 1439.2 1263.7 1440.6 1263.8C1441.9 1263.9 1443.2 1264.1 1444.5 1264.2C1445.9 1264.3 1447.2 1264.4 1448.5 1264.5C1449.9 1264.7 1451.2 1264.8 1452.5 1264.9C1453.8 1265 1455.2 1265.1 1456.5 1265.2C1457.8 1265.3 1459.2 1265.4 1460.5 1265.5C1461.8 1265.7 1463.1 1265.8 1464.5 1265.9C1465.8 1266 1467.1 1266.1 1468.5 1266.2C1469.8 1266.3 1471.1 1266.4 1472.4 1266.5C1473.8 1266.6 1475.1 1266.6 1476.4 1266.7C1477.8 1266.8 1479.1 1266.9 1480.4 1267C1481.8 1267.1 1483.1 1267.2 1484.4 1267.3C1485.8 1267.4 1487.1 1267.4 1488.4 1267.5C1489.7 1267.6 1491.1 1267.7 1492.4 1267.8C1493.7 1267.8 1495.1 1267.9 1496.4 1268C1497.7 1268.1 1499.1 1268.2 1500.4 1268.2C1501.7 1268.3 1503.1 1268.4 1504.4 1268.4C1505.7 1268.5 1507 1268.6 1508.4 1268.6C1509.7 1268.7 1511 1268.8 1512.4 1268.8C1513.7 1268.9 1515 1269 1516.4 1269C1517.7 1269.1 1519 1269.2 1520.4 1269.2C1521.7 1269.3 1523 1269.3 1524.4 1269.4C1525.7 1269.4 1527 1269.5 1528.4 1269.5C1529.7 1269.6 1531 1269.7 1532.4 1269.7C1533.7 1269.8 1535 1269.8 1536.4 1269.8C1537.7 1269.9 1539 1269.9 1540.3 1270C1541.7 1270 1543 1270.1 1544.3 1270.1C1545.7 1270.2 1547 1270.2 1548.3 1270.2C1549.7 1270.3 1551 1270.3 1552.3 1270.4C1553.7 1270.4 1555 1270.4 1556.3 1270.5C1557.7 1270.5 1559 1270.5 1560.3 1270.6C1561.7 1270.6 1563 1270.6 1564.3 1270.7C1565.7 1270.7 1567 1270.7 1568.3 1270.8C1569.7 1270.8 1571 1270.8 1572.3 1270.8C1573.7 1270.9 1575 1270.9 1576.3 1270.9C1577.7 1270.9 1579 1271 1580.3 1271C1581.7 1271 1583 1271 1584.3 1271C1585.7 1271.1 1587 1271.1 1588.3 1271.1C1589.7 1271.1 1591 1271.1 1592.3 1271.1C1593.7 1271.2 1595 1271.2 1596.3 1271.2C1597.7 1271.2 1599 1271.2 1600.3 1271.2C1601.7 1271.2 1603 1271.3 1604.3 1271.3C1605.7 1271.3 1607 1271.3 1608.3 1271.3C1609.7 1271.3 1611 1271.3 1612.3 1271.3C1613.7 1271.3 1615 1271.3 1616.3 1271.3C1617.7 1271.4 1619 1271.4 1620.3 1271.4C1621.7 1271.4 1623 1271.4 1624.3 1271.4C1625.7 1271.4 1627 1271.4 1628.3 1271.4C1629.7 1271.4 1631 1271.4 1632.3 1271.4C1633.7 1271.4 1635 1271.4 1636.3 1271.4C1637.7 1271.4 1639 1271.4 1640.3 1271.4C1641.7 1271.4 1643 1271.4 1644.3 1271.4C1645.7 1271.4 1647 1271.4 1648.3 1271.4C1649.7 1271.3 1651 1271.3 1652.3 1271.3C1653.7 1271.3 1655 1271.3 1656.3 1271.3C1657.7 1271.3 1659 1271.3 1660.3 1271.3C1661.7 1271.3 1663 1271.3 1664.3 1271.3C1665.7 1271.3 1667 1271.3 1668.3 1271.2C1669.7 1271.2 1671 1271.2 1672.3 1271.2C1673.7 1271.2 1675 1271.2 1676.3 1271.2C1677.7 1271.2 1679 1271.2 1680.3 1271.1C1681.7 1271.1 1683 1271.1 1684.3 1271.1C1685.7 1271.1 1687 1271.1 1688.3 1271.1C1689.7 1271.1 1691 1271 1692.3 1271C1693.7 1271 1695 1271 1696.3 1271C1697.7 1271 1699 1271 1700.3 1270.9C1701.7 1270.9 1703 1270.9 1704.3 1270.9C1705.7 1270.9 1707 1270.9 1708.3 1270.9C1709.7 1270.8 1711 1270.8 1712.3 1270.8C1713.7 1270.8 1715 1270.8 1716.3 1270.8C1717.7 1270.7 1719 1270.7 1720.3 1270.7C1721.7 1270.7 1723 1270.7 1724.3 1270.7C1725.7 1270.6 1727 1270.6 1728.3 1270.6C1729.7 1270.6 1731 1270.6 1732.3 1270.6C1733.7 1270.5 1735 1270.5 1736.3 1270.5C1737.7 1270.5 1739 1270.5 1740.3 1270.5C1741.7 1270.4 1743 1270.4 1744.3 1270.4C1745.7 1270.4 1747 1270.4 1748.3 1270.4C1749.7 1270.4 1751 1270.3 1752.3 1270.3C1753.7 1270.3 1755 1270.3 1756.3 1270.3C1757.7 1270.3 1759 1270.2 1760.3 1270.2C1761.7 1270.2 1763 1270.2 1764.3 1270.2C1765.7 1270.2 1767 1270.2 1768.3 1270.1C1769.7 1270.1 1771 1270.1 1772.3 1270.1C1773.7 1270.1 1775 1270.1 1776.3 1270.1C1777.7 1270 1779 1270 1780.3 1270C1781.7 1270 1783 1270 1784.3 1270C1785.7 1270 1787 1270 1788.3 1269.9C1789.7 1269.9 1791 1269.9 1792.3 1269.9C1793.7 1269.9 1795 1269.9 1796.3 1269.9C1797.7 1269.9 1799 1269.9 1800.3 1269.9C1801.7 1269.9 1803 1269.8 1804.3 1269.8C1805.7 1269.8 1807 1269.8 1808.3 1269.8C1809.7 1269.8 1811 1269.8 1812.3 1269.8C1813.7 1269.8 1815 1269.8 1816.3 1269.8C1817.7 1269.8 1819 1269.8 1820.3 1269.8C1821.7 1269.8 1823 1269.8 1824.3 1269.8C1825.7 1269.8 1827 1269.8 1828.3 1269.8C1829.7 1269.8 1831 1269.8 1832.3 1269.8C1833.7 1269.8 1835 1269.8 1836.3 1269.8C1837.7 1269.8 1839 1269.8 1840.3 1269.8C1841.7 1269.8 1843 1269.8 1844.3 1269.8C1845.7 1269.8 1847 1269.8 1848.3 1269.8C1849.7 1269.8 1851 1269.8 1852.3 1269.8C1853.7 1269.8 1855 1269.8 1856.3 1269.8C1857.7 1269.8 1859 1269.9 1860.3 1269.9C1861.7 1269.9 1863.2 1269.9 1864.3 1269.9C1865.4 1269.9 1865.1 1269.9 1867 1269.9C1868.9 1269.9 1874.5 1269.9 1876 1269.9"/></g>
</g>
<g fill="none" stroke-width="12.6" stroke-linecap="round">
<path stroke="#FF7DC3" d="M1640.5 80 H1777.5"/><path stroke="#8A9BFF" d="M1640.5 177.5 H1777.5"/>
<path stroke="#FF7DC3" d="M1640.5 765.9 H1777.5"/><path stroke="#8A9BFF" d="M1640.5 863.8 H1777.5"/>
</g>
<g font-size="58.5" font-weight="bold">
<text x="1808.6" y="101">2</text><text x="1808.6" y="198.6">5</text>
<text x="1808.6" y="787">2</text><text x="1808.6" y="884.8">5</text>
</g>
<g font-size="54.2" text-anchor="end">
<text x="260.3" y="99.8">200</text>
<text x="260.3" y="226.9">100</text>
<text x="260.3" y="354">0</text>
<text x="260.3" y="481.1">-100</text>
<text x="260.3" y="608.2">-200</text>
</g>
<g font-size="52.8" text-anchor="end">
<text x="259.6" y="1287">0</text>
<text x="259" y="1165.3">1x10<tspan font-size="36.5" dx="2" dy="-21.7">4</tspan></text>
<text x="259" y="1039.6">2x10<tspan font-size="36.5" dx="2" dy="-21.7">4</tspan></text>
<text x="259" y="913.9">3x10<tspan font-size="36.5" dx="2" dy="-21.7">4</tspan></text>
<text x="259" y="788.2">4x10<tspan font-size="36.5" dx="2" dy="-21.7">4</tspan></text>
</g>
<g font-size="53.6" text-anchor="middle">
<text x="497.8" y="739">225</text>
<text x="1084.2" y="739">300</text>
<text x="1670.6" y="739">375</text>
<text x="497.8" y="1373">225</text>
<text x="1084.2" y="1373">300</text>
<text x="1670.6" y="1373">375</text>
</g>
<text font-size="82.5" letter-spacing="0.7" x="332" y="592.4">(b)</text>
<text font-size="82.5" letter-spacing="1" x="329" y="1223">(a)</text>
<text font-size="82" letter-spacing="0.3" text-anchor="middle" x="1087" y="1455">Wavelength (nm)</text>
<text font-size="83.1" text-anchor="middle" transform="translate(122.8 319.5) rotate(-90)">CD (mdeg)</text>
<text font-size="82" transform="translate(88.4 1143) rotate(-90)">ε/<tspan dx="2">M</tspan><tspan font-size="57.5" dy="-29.5">-1</tspan><tspan dx="3.5" dy="29.5"> cm</tspan><tspan font-size="57.5" dx="4" dy="-29.5">-1</tspan></text>
</svg></body></html>
